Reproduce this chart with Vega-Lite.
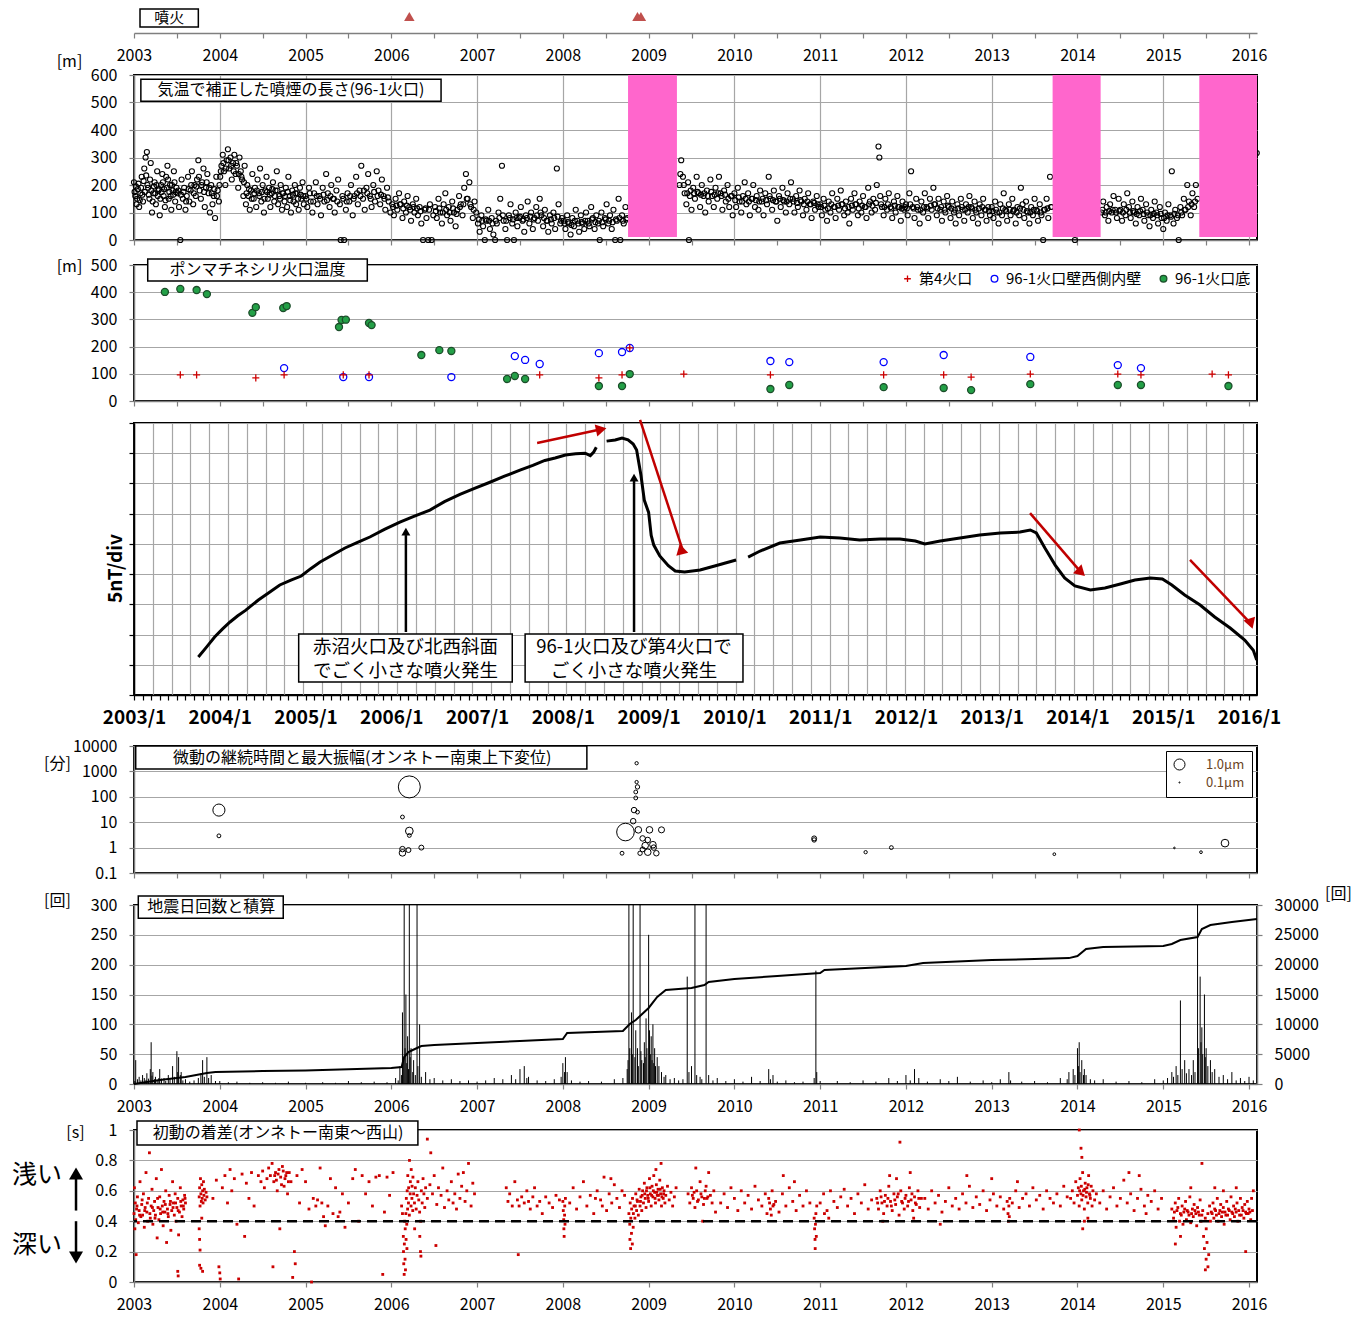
{
  "$schema": "https://vega.github.io/schema/vega-lite/v6.json",
  "background": "white",
  "padding": {"left": 10, "top": 0, "right": 5, "bottom": 5},
  "bounds": "flush",
  "spacing": 0,
  "resolve": {
    "scale": {"size": "independent", "shape": "independent", "fill": "independent", "stroke": "independent", "angle": "independent"},
    "legend": {"size": "independent", "shape": "independent", "fill": "independent", "stroke": "independent"}
  },
  "config": {
    "view": {"stroke": null},
    "font": "Noto Sans CJK JP",
    "axis": {
      "labelFont": "Noto Sans CJK JP", "labelFontSize": 16, "labelColor": "black",
      "titleFont": "Noto Sans CJK JP", "titleFontSize": 16, "titleFontWeight": "normal", "titleColor": "black",
      "domainColor": "#7f7f7f", "domainWidth": 1.5, "tickColor": "#7f7f7f", "tickWidth": 1.2, "tickSize": 5,
      "gridColor": "#a6a6a6", "gridWidth": 1.2, "labelPadding": 12, "labelFlush": false, "labelOverlap": false
    },
    "legend": {"labelFont": "Noto Sans CJK JP", "titleFont": "Noto Sans CJK JP"},
    "text": {"font": "Noto Sans CJK JP", "color": "black"}
  },
  "datasets": {
    "eruptions": [{"t": 2006.21}, {"t": 2008.87}, {"t": 2008.91}],
    "gaps": [{"a": 2008.76, "b": 2009.33}, {"a": 2013.71, "b": 2014.27}, {"a": 2015.42, "b": 2016.093}],
    "plume": [
      {"t":2003.000,"h":210},{"t":2003.015,"h":160},{"t":2003.030,"h":130},{"t":2003.045,"h":185},{"t":2003.060,"h":120},{"t":2003.075,"h":170},{"t":2003.090,"h":230},{"t":2003.105,"h":140},{"t":2003.120,"h":260},{"t":2003.135,"h":300},{"t":2003.150,"h":320},{"t":2003.165,"h":190},{"t":2003.180,"h":150},{"t":2003.195,"h":280},{"t":2003.210,"h":100},{"t":2003.225,"h":170},{"t":2003.240,"h":210},{"t":2003.255,"h":130},{"t":2003.270,"h":250},{"t":2003.285,"h":180},{"t":2003.300,"h":90},{"t":2003.315,"h":200},{"t":2003.330,"h":240},{"t":2003.345,"h":160},{"t":2003.360,"h":120},{"t":2003.375,"h":230},{"t":2003.390,"h":270},{"t":2003.405,"h":150},{"t":2003.420,"h":200},{"t":2003.435,"h":110},{"t":2003.450,"h":180},{"t":2003.465,"h":250},{"t":2003.480,"h":140},{"t":2003.495,"h":190},
      {"t":2003.007,"h":175},{"t":2003.022,"h":195},{"t":2003.037,"h":150},{"t":2003.052,"h":205},{"t":2003.067,"h":145},{"t":2003.082,"h":190},{"t":2003.097,"h":165},{"t":2003.112,"h":215},{"t":2003.127,"h":175},{"t":2003.142,"h":235},{"t":2003.157,"h":200},{"t":2003.172,"h":165},{"t":2003.187,"h":220},{"t":2003.202,"h":180},{"t":2003.217,"h":140},{"t":2003.232,"h":195},{"t":2003.247,"h":170},{"t":2003.262,"h":200},{"t":2003.277,"h":160},{"t":2003.292,"h":185},{"t":2003.307,"h":150},{"t":2003.322,"h":175},{"t":2003.337,"h":210},{"t":2003.352,"h":185},{"t":2003.367,"h":145},{"t":2003.382,"h":190},{"t":2003.397,"h":220},{"t":2003.412,"h":175},{"t":2003.427,"h":160},{"t":2003.442,"h":200},{"t":2003.457,"h":165},{"t":2003.472,"h":210},{"t":2003.487,"h":175},
      {"t":2003.510,"h":170},{"t":2003.525,"h":120},{"t":2003.540,"h":0},{"t":2003.555,"h":220},{"t":2003.570,"h":150},{"t":2003.585,"h":190},{"t":2003.600,"h":110},{"t":2003.615,"h":160},{"t":2003.630,"h":230},{"t":2003.645,"h":140},{"t":2003.660,"h":180},{"t":2003.675,"h":250},{"t":2003.690,"h":130},{"t":2003.705,"h":200},{"t":2003.720,"h":160},{"t":2003.735,"h":220},{"t":2003.750,"h":290},{"t":2003.765,"h":180},{"t":2003.780,"h":150},{"t":2003.795,"h":210},{"t":2003.810,"h":260},{"t":2003.825,"h":120},{"t":2003.840,"h":190},{"t":2003.855,"h":240},{"t":2003.870,"h":170},{"t":2003.885,"h":100},{"t":2003.900,"h":200},{"t":2003.915,"h":130},{"t":2003.930,"h":160},{"t":2003.945,"h":80},{"t":2003.960,"h":230},{"t":2003.975,"h":180},{"t":2003.990,"h":140},
      {"t":2003.517,"h":180},{"t":2003.547,"h":165},{"t":2003.577,"h":175},{"t":2003.607,"h":140},{"t":2003.637,"h":185},{"t":2003.667,"h":200},{"t":2003.697,"h":170},{"t":2003.727,"h":195},{"t":2003.757,"h":230},{"t":2003.787,"h":200},{"t":2003.817,"h":175},{"t":2003.847,"h":210},{"t":2003.877,"h":190},{"t":2003.907,"h":170},{"t":2003.937,"h":185},{"t":2003.967,"h":160},{"t":2003.997,"h":200},
      {"t":2004.005,"h":230},{"t":2004.020,"h":270},{"t":2004.035,"h":310},{"t":2004.050,"h":250},{"t":2004.065,"h":200},{"t":2004.080,"h":290},{"t":2004.095,"h":330},{"t":2004.110,"h":260},{"t":2004.125,"h":300},{"t":2004.140,"h":220},{"t":2004.155,"h":280},{"t":2004.170,"h":310},{"t":2004.185,"h":240},{"t":2004.200,"h":270},{"t":2004.215,"h":190},{"t":2004.230,"h":300},{"t":2004.245,"h":250},{"t":2004.260,"h":220},{"t":2004.275,"h":160},{"t":2004.290,"h":270},
      {"t":2004.012,"h":250},{"t":2004.042,"h":280},{"t":2004.072,"h":260},{"t":2004.102,"h":290},{"t":2004.132,"h":270},{"t":2004.162,"h":250},{"t":2004.192,"h":280},{"t":2004.222,"h":240},{"t":2004.252,"h":230},{"t":2004.282,"h":210},
      {"t":2004.305,"h":130},{"t":2004.320,"h":200},{"t":2004.335,"h":160},{"t":2004.350,"h":110},{"t":2004.365,"h":180},{"t":2004.380,"h":240},{"t":2004.395,"h":150},{"t":2004.410,"h":190},{"t":2004.425,"h":120},{"t":2004.440,"h":220},{"t":2004.455,"h":170},{"t":2004.470,"h":260},{"t":2004.485,"h":140},{"t":2004.500,"h":200},{"t":2004.515,"h":100},{"t":2004.530,"h":180},{"t":2004.545,"h":230},{"t":2004.560,"h":150},{"t":2004.575,"h":190},{"t":2004.590,"h":120},{"t":2004.605,"h":170},{"t":2004.620,"h":210},{"t":2004.635,"h":140},{"t":2004.650,"h":180},{"t":2004.665,"h":250},{"t":2004.680,"h":130},{"t":2004.695,"h":160},{"t":2004.710,"h":200},{"t":2004.725,"h":110},{"t":2004.740,"h":170},{"t":2004.755,"h":140},{"t":2004.770,"h":190},{"t":2004.785,"h":120},{"t":2004.800,"h":230},{"t":2004.815,"h":160},{"t":2004.830,"h":100},{"t":2004.845,"h":180},{"t":2004.860,"h":140},{"t":2004.875,"h":200},{"t":2004.890,"h":130},{"t":2004.905,"h":170},{"t":2004.920,"h":110},{"t":2004.935,"h":190},{"t":2004.950,"h":150},{"t":2004.965,"h":210},{"t":2004.980,"h":130},
      {"t":2004.312,"h":170},{"t":2004.342,"h":185},{"t":2004.372,"h":150},{"t":2004.402,"h":170},{"t":2004.432,"h":180},{"t":2004.462,"h":160},{"t":2004.492,"h":175},{"t":2004.522,"h":150},{"t":2004.552,"h":175},{"t":2004.582,"h":165},{"t":2004.612,"h":185},{"t":2004.642,"h":160},{"t":2004.672,"h":180},{"t":2004.702,"h":150},{"t":2004.732,"h":170},{"t":2004.762,"h":160},{"t":2004.792,"h":175},{"t":2004.822,"h":145},{"t":2004.852,"h":165},{"t":2004.882,"h":170},{"t":2004.912,"h":150},{"t":2004.942,"h":165},{"t":2004.972,"h":160},
      {"t":2005.00,"h":160},{"t":2005.02,"h":120},{"t":2005.04,"h":190},{"t":2005.06,"h":140},{"t":2005.08,"h":100},{"t":2005.10,"h":170},{"t":2005.12,"h":210},{"t":2005.14,"h":130},{"t":2005.16,"h":160},{"t":2005.18,"h":90},{"t":2005.20,"h":190},{"t":2005.22,"h":140},{"t":2005.24,"h":240},{"t":2005.26,"h":170},{"t":2005.28,"h":120},{"t":2005.30,"h":200},{"t":2005.32,"h":150},{"t":2005.34,"h":100},{"t":2005.36,"h":180},{"t":2005.38,"h":220},{"t":2005.40,"h":130},{"t":2005.41,"h":0},{"t":2005.43,"h":160},{"t":2005.45,"h":0},{"t":2005.47,"h":110},{"t":2005.49,"h":170},{"t":2005.51,"h":140},{"t":2005.53,"h":200},{"t":2005.55,"h":90},{"t":2005.57,"h":160},{"t":2005.59,"h":230},{"t":2005.61,"h":130},{"t":2005.63,"h":180},{"t":2005.65,"h":270},{"t":2005.67,"h":150},{"t":2005.69,"h":110},{"t":2005.71,"h":190},{"t":2005.73,"h":240},{"t":2005.75,"h":160},{"t":2005.77,"h":120},{"t":2005.79,"h":200},{"t":2005.81,"h":140},{"t":2005.83,"h":250},{"t":2005.85,"h":180},{"t":2005.87,"h":130},{"t":2005.89,"h":220},{"t":2005.91,"h":160},{"t":2005.93,"h":110},{"t":2005.95,"h":190},{"t":2005.97,"h":140},{"t":2005.99,"h":100},
      {"t":2005.01,"h":150},{"t":2005.05,"h":170},{"t":2005.09,"h":140},{"t":2005.13,"h":160},{"t":2005.17,"h":150},{"t":2005.21,"h":165},{"t":2005.25,"h":145},{"t":2005.29,"h":160},{"t":2005.33,"h":150},{"t":2005.37,"h":140},{"t":2005.44,"h":150},{"t":2005.48,"h":140},{"t":2005.52,"h":160},{"t":2005.56,"h":150},{"t":2005.60,"h":170},{"t":2005.64,"h":160},{"t":2005.68,"h":180},{"t":2005.72,"h":170},{"t":2005.76,"h":150},{"t":2005.80,"h":175},{"t":2005.84,"h":160},{"t":2005.88,"h":165},{"t":2005.92,"h":150},{"t":2005.96,"h":155},
      {"t":2006.01,"h":130},{"t":2006.03,"h":90},{"t":2006.05,"h":150},{"t":2006.07,"h":110},{"t":2006.09,"h":170},{"t":2006.11,"h":130},{"t":2006.13,"h":80},{"t":2006.15,"h":140},{"t":2006.17,"h":100},{"t":2006.19,"h":160},{"t":2006.21,"h":120},{"t":2006.23,"h":70},{"t":2006.25,"h":130},{"t":2006.27,"h":100},{"t":2006.29,"h":150},{"t":2006.31,"h":90},{"t":2006.33,"h":120},{"t":2006.35,"h":60},{"t":2006.37,"h":0},{"t":2006.39,"h":110},{"t":2006.41,"h":80},{"t":2006.43,"h":0},{"t":2006.45,"h":130},{"t":2006.47,"h":0},{"t":2006.49,"h":90},
      {"t":2006.02,"h":120},{"t":2006.06,"h":125},{"t":2006.10,"h":130},{"t":2006.14,"h":115},{"t":2006.18,"h":125},{"t":2006.22,"h":110},{"t":2006.26,"h":120},{"t":2006.30,"h":115},{"t":2006.34,"h":105},{"t":2006.40,"h":115},{"t":2006.44,"h":110},{"t":2006.52,"h":105},{"t":2006.56,"h":115},{"t":2006.60,"h":100},{"t":2006.64,"h":110},{"t":2006.68,"h":100},{"t":2006.72,"h":115},{"t":2006.76,"h":95},{"t":2006.80,"h":120},{"t":2006.84,"h":130},{"t":2006.88,"h":150},{"t":2006.92,"h":130},{"t":2006.96,"h":110},
      {"t":2006.51,"h":120},{"t":2006.53,"h":80},{"t":2006.55,"h":150},{"t":2006.57,"h":100},{"t":2006.59,"h":60},{"t":2006.61,"h":130},{"t":2006.63,"h":170},{"t":2006.65,"h":90},{"t":2006.67,"h":120},{"t":2006.69,"h":70},{"t":2006.71,"h":140},{"t":2006.73,"h":100},{"t":2006.75,"h":50},{"t":2006.77,"h":110},{"t":2006.79,"h":160},{"t":2006.81,"h":130},{"t":2006.83,"h":90},{"t":2006.85,"h":190},{"t":2006.87,"h":240},{"t":2006.89,"h":150},{"t":2006.91,"h":210},{"t":2006.93,"h":120},{"t":2006.95,"h":80},{"t":2006.97,"h":140},{"t":2006.99,"h":100},
      {"t":2007.01,"h":60},{"t":2007.03,"h":30},{"t":2007.05,"h":90},{"t":2007.07,"h":50},{"t":2007.09,"h":0},{"t":2007.11,"h":70},{"t":2007.13,"h":110},{"t":2007.15,"h":40},{"t":2007.17,"h":80},{"t":2007.19,"h":20},{"t":2007.21,"h":0},{"t":2007.23,"h":60},{"t":2007.25,"h":100},{"t":2007.27,"h":150},{"t":2007.29,"h":270},{"t":2007.31,"h":70},{"t":2007.33,"h":40},{"t":2007.35,"h":0},{"t":2007.37,"h":90},{"t":2007.39,"h":130},{"t":2007.41,"h":60},{"t":2007.43,"h":0},{"t":2007.45,"h":100},{"t":2007.47,"h":50},{"t":2007.49,"h":80},{"t":2007.51,"h":120},{"t":2007.53,"h":70},{"t":2007.55,"h":30},{"t":2007.57,"h":90},{"t":2007.59,"h":140},{"t":2007.61,"h":60},{"t":2007.63,"h":100},{"t":2007.65,"h":40},{"t":2007.67,"h":80},{"t":2007.69,"h":120},{"t":2007.71,"h":70},{"t":2007.73,"h":150},{"t":2007.75,"h":90},{"t":2007.77,"h":50},{"t":2007.79,"h":110},{"t":2007.81,"h":70},{"t":2007.83,"h":30},{"t":2007.85,"h":90},{"t":2007.87,"h":60},{"t":2007.89,"h":100},{"t":2007.91,"h":40},{"t":2007.93,"h":260},{"t":2007.95,"h":130},{"t":2007.97,"h":60},{"t":2007.99,"h":80},
      {"t":2007.02,"h":75},{"t":2007.06,"h":70},{"t":2007.10,"h":75},{"t":2007.14,"h":70},{"t":2007.18,"h":60},{"t":2007.22,"h":70},{"t":2007.26,"h":80},{"t":2007.30,"h":90},{"t":2007.34,"h":70},{"t":2007.38,"h":80},{"t":2007.42,"h":75},{"t":2007.46,"h":80},{"t":2007.50,"h":85},{"t":2007.54,"h":75},{"t":2007.58,"h":80},{"t":2007.62,"h":85},{"t":2007.66,"h":75},{"t":2007.70,"h":90},{"t":2007.74,"h":100},{"t":2007.78,"h":80},{"t":2007.82,"h":70},{"t":2007.86,"h":75},{"t":2007.90,"h":80},{"t":2007.94,"h":85},{"t":2007.98,"h":70},
      {"t":2008.01,"h":70},{"t":2008.03,"h":40},{"t":2008.05,"h":90},{"t":2008.07,"h":60},{"t":2008.09,"h":20},{"t":2008.11,"h":80},{"t":2008.13,"h":50},{"t":2008.15,"h":110},{"t":2008.17,"h":70},{"t":2008.19,"h":30},{"t":2008.21,"h":90},{"t":2008.23,"h":60},{"t":2008.25,"h":40},{"t":2008.27,"h":100},{"t":2008.29,"h":70},{"t":2008.31,"h":50},{"t":2008.33,"h":120},{"t":2008.35,"h":80},{"t":2008.37,"h":40},{"t":2008.39,"h":90},{"t":2008.41,"h":60},{"t":2008.43,"h":0},{"t":2008.45,"h":100},{"t":2008.47,"h":50},{"t":2008.49,"h":80},{"t":2008.51,"h":130},{"t":2008.53,"h":60},{"t":2008.55,"h":90},{"t":2008.57,"h":40},{"t":2008.59,"h":110},{"t":2008.61,"h":0},{"t":2008.63,"h":70},{"t":2008.65,"h":150},{"t":2008.67,"h":0},{"t":2008.69,"h":90},{"t":2008.71,"h":60},{"t":2008.73,"h":120},{"t":2008.75,"h":80},
      {"t":2008.02,"h":60},{"t":2008.06,"h":65},{"t":2008.10,"h":55},{"t":2008.14,"h":70},{"t":2008.18,"h":60},{"t":2008.22,"h":65},{"t":2008.26,"h":70},{"t":2008.30,"h":60},{"t":2008.34,"h":75},{"t":2008.38,"h":65},{"t":2008.42,"h":70},{"t":2008.46,"h":65},{"t":2008.50,"h":75},{"t":2008.54,"h":70},{"t":2008.58,"h":65},{"t":2008.62,"h":75},{"t":2008.66,"h":80},{"t":2008.70,"h":70},{"t":2008.74,"h":75},
      {"t":2009.36,"h":200},{"t":2009.38,"h":290},{"t":2009.40,"h":230},{"t":2009.42,"h":170},{"t":2009.44,"h":130},{"t":2009.46,"h":210},{"t":2009.47,"h":0},{"t":2009.48,"h":160},{"t":2009.50,"h":110},{"t":2009.52,"h":190},{"t":2009.54,"h":150},{"t":2009.56,"h":230},{"t":2009.58,"h":170},{"t":2009.60,"h":120},{"t":2009.62,"h":200},{"t":2009.64,"h":160},{"t":2009.66,"h":100},{"t":2009.68,"h":180},{"t":2009.70,"h":140},{"t":2009.72,"h":220},{"t":2009.74,"h":160},{"t":2009.76,"h":120},{"t":2009.78,"h":190},{"t":2009.80,"h":150},{"t":2009.82,"h":230},{"t":2009.84,"h":170},{"t":2009.86,"h":110},{"t":2009.88,"h":180},{"t":2009.90,"h":140},{"t":2009.92,"h":200},{"t":2009.94,"h":120},{"t":2009.96,"h":160},{"t":2009.98,"h":90},
      {"t":2009.37,"h":240},{"t":2009.41,"h":200},{"t":2009.45,"h":170},{"t":2009.49,"h":180},{"t":2009.53,"h":170},{"t":2009.57,"h":175},{"t":2009.61,"h":165},{"t":2009.65,"h":170},{"t":2009.69,"h":160},{"t":2009.73,"h":175},{"t":2009.77,"h":165},{"t":2009.81,"h":170},{"t":2009.85,"h":160},{"t":2009.89,"h":165},{"t":2009.93,"h":150},{"t":2009.97,"h":160},
      {"t":2010.00,"h":170},{"t":2010.02,"h":120},{"t":2010.04,"h":190},{"t":2010.06,"h":140},{"t":2010.08,"h":100},{"t":2010.10,"h":160},{"t":2010.12,"h":210},{"t":2010.14,"h":130},{"t":2010.16,"h":170},{"t":2010.18,"h":90},{"t":2010.20,"h":150},{"t":2010.22,"h":200},{"t":2010.24,"h":120},{"t":2010.26,"h":160},{"t":2010.28,"h":110},{"t":2010.30,"h":180},{"t":2010.32,"h":140},{"t":2010.34,"h":90},{"t":2010.36,"h":170},{"t":2010.38,"h":130},{"t":2010.40,"h":230},{"t":2010.42,"h":150},{"t":2010.44,"h":110},{"t":2010.46,"h":180},{"t":2010.48,"h":140},{"t":2010.50,"h":70},{"t":2010.52,"h":160},{"t":2010.54,"h":120},{"t":2010.56,"h":190},{"t":2010.58,"h":140},{"t":2010.60,"h":100},{"t":2010.62,"h":170},{"t":2010.64,"h":130},{"t":2010.66,"h":210},{"t":2010.68,"h":150},{"t":2010.70,"h":100},{"t":2010.72,"h":160},{"t":2010.74,"h":120},{"t":2010.76,"h":180},{"t":2010.78,"h":140},{"t":2010.80,"h":90},{"t":2010.82,"h":150},{"t":2010.84,"h":110},{"t":2010.86,"h":170},{"t":2010.88,"h":130},{"t":2010.90,"h":80},{"t":2010.92,"h":140},{"t":2010.94,"h":110},{"t":2010.96,"h":160},{"t":2010.98,"h":120},
      {"t":2010.01,"h":145},{"t":2010.05,"h":155},{"t":2010.09,"h":140},{"t":2010.13,"h":150},{"t":2010.17,"h":140},{"t":2010.21,"h":150},{"t":2010.25,"h":145},{"t":2010.29,"h":140},{"t":2010.33,"h":150},{"t":2010.37,"h":145},{"t":2010.41,"h":160},{"t":2010.45,"h":145},{"t":2010.49,"h":140},{"t":2010.53,"h":150},{"t":2010.57,"h":145},{"t":2010.61,"h":140},{"t":2010.65,"h":150},{"t":2010.69,"h":140},{"t":2010.73,"h":135},{"t":2010.77,"h":145},{"t":2010.81,"h":130},{"t":2010.85,"h":140},{"t":2010.89,"h":130},{"t":2010.93,"h":135},{"t":2010.97,"h":130},
      {"t":2011.00,"h":130},{"t":2011.02,"h":90},{"t":2011.04,"h":150},{"t":2011.06,"h":110},{"t":2011.08,"h":70},{"t":2011.10,"h":140},{"t":2011.12,"h":100},{"t":2011.14,"h":170},{"t":2011.16,"h":120},{"t":2011.18,"h":80},{"t":2011.20,"h":150},{"t":2011.22,"h":110},{"t":2011.24,"h":180},{"t":2011.26,"h":130},{"t":2011.28,"h":90},{"t":2011.30,"h":140},{"t":2011.32,"h":100},{"t":2011.34,"h":60},{"t":2011.36,"h":150},{"t":2011.38,"h":110},{"t":2011.40,"h":170},{"t":2011.42,"h":130},{"t":2011.44,"h":90},{"t":2011.46,"h":140},{"t":2011.48,"h":100},{"t":2011.50,"h":160},{"t":2011.52,"h":120},{"t":2011.54,"h":80},{"t":2011.56,"h":190},{"t":2011.58,"h":140},{"t":2011.60,"h":100},{"t":2011.62,"h":150},{"t":2011.64,"h":110},{"t":2011.66,"h":200},{"t":2011.68,"h":340},{"t":2011.69,"h":300},{"t":2011.70,"h":160},{"t":2011.72,"h":120},{"t":2011.74,"h":90},{"t":2011.76,"h":150},{"t":2011.78,"h":110},{"t":2011.80,"h":170},{"t":2011.82,"h":120},{"t":2011.84,"h":80},{"t":2011.86,"h":140},{"t":2011.88,"h":100},{"t":2011.90,"h":160},{"t":2011.92,"h":120},{"t":2011.94,"h":70},{"t":2011.96,"h":140},{"t":2011.98,"h":110},
      {"t":2011.01,"h":120},{"t":2011.05,"h":125},{"t":2011.09,"h":115},{"t":2011.13,"h":130},{"t":2011.17,"h":120},{"t":2011.21,"h":125},{"t":2011.25,"h":130},{"t":2011.29,"h":115},{"t":2011.33,"h":120},{"t":2011.37,"h":125},{"t":2011.41,"h":130},{"t":2011.45,"h":115},{"t":2011.49,"h":125},{"t":2011.53,"h":120},{"t":2011.57,"h":130},{"t":2011.61,"h":125},{"t":2011.65,"h":135},{"t":2011.71,"h":130},{"t":2011.75,"h":120},{"t":2011.79,"h":130},{"t":2011.83,"h":115},{"t":2011.87,"h":125},{"t":2011.91,"h":120},{"t":2011.95,"h":115},{"t":2011.99,"h":120},
      {"t":2012.00,"h":130},{"t":2012.02,"h":90},{"t":2012.04,"h":170},{"t":2012.06,"h":250},{"t":2012.08,"h":120},{"t":2012.10,"h":80},{"t":2012.12,"h":150},{"t":2012.14,"h":110},{"t":2012.16,"h":60},{"t":2012.18,"h":140},{"t":2012.20,"h":100},{"t":2012.22,"h":170},{"t":2012.24,"h":120},{"t":2012.26,"h":80},{"t":2012.28,"h":150},{"t":2012.30,"h":110},{"t":2012.32,"h":190},{"t":2012.34,"h":130},{"t":2012.36,"h":90},{"t":2012.38,"h":150},{"t":2012.40,"h":110},{"t":2012.42,"h":70},{"t":2012.44,"h":140},{"t":2012.46,"h":100},{"t":2012.48,"h":160},{"t":2012.50,"h":120},{"t":2012.52,"h":80},{"t":2012.54,"h":140},{"t":2012.56,"h":100},{"t":2012.58,"h":60},{"t":2012.60,"h":130},{"t":2012.62,"h":90},{"t":2012.64,"h":150},{"t":2012.66,"h":110},{"t":2012.68,"h":70},{"t":2012.70,"h":130},{"t":2012.72,"h":100},{"t":2012.74,"h":160},{"t":2012.76,"h":120},{"t":2012.78,"h":80},{"t":2012.80,"h":140},{"t":2012.82,"h":100},{"t":2012.84,"h":60},{"t":2012.86,"h":130},{"t":2012.88,"h":90},{"t":2012.90,"h":150},{"t":2012.92,"h":110},{"t":2012.94,"h":70},{"t":2012.96,"h":120},{"t":2012.98,"h":90},
      {"t":2012.01,"h":115},{"t":2012.05,"h":130},{"t":2012.09,"h":115},{"t":2012.13,"h":120},{"t":2012.17,"h":110},{"t":2012.21,"h":120},{"t":2012.25,"h":115},{"t":2012.29,"h":125},{"t":2012.33,"h":130},{"t":2012.37,"h":115},{"t":2012.41,"h":120},{"t":2012.45,"h":110},{"t":2012.49,"h":125},{"t":2012.53,"h":115},{"t":2012.57,"h":110},{"t":2012.61,"h":115},{"t":2012.65,"h":120},{"t":2012.69,"h":110},{"t":2012.73,"h":120},{"t":2012.77,"h":115},{"t":2012.81,"h":110},{"t":2012.85,"h":115},{"t":2012.89,"h":120},{"t":2012.93,"h":110},{"t":2012.97,"h":105},
      {"t":2013.00,"h":120},{"t":2013.02,"h":80},{"t":2013.04,"h":140},{"t":2013.06,"h":100},{"t":2013.08,"h":60},{"t":2013.10,"h":130},{"t":2013.12,"h":90},{"t":2013.14,"h":170},{"t":2013.16,"h":110},{"t":2013.18,"h":70},{"t":2013.20,"h":130},{"t":2013.22,"h":90},{"t":2013.24,"h":150},{"t":2013.26,"h":110},{"t":2013.28,"h":60},{"t":2013.30,"h":120},{"t":2013.32,"h":90},{"t":2013.34,"h":190},{"t":2013.36,"h":130},{"t":2013.38,"h":80},{"t":2013.40,"h":140},{"t":2013.42,"h":100},{"t":2013.44,"h":60},{"t":2013.46,"h":120},{"t":2013.48,"h":90},{"t":2013.50,"h":150},{"t":2013.52,"h":110},{"t":2013.54,"h":70},{"t":2013.56,"h":130},{"t":2013.58,"h":90},{"t":2013.60,"h":0},{"t":2013.62,"h":110},{"t":2013.64,"h":150},{"t":2013.66,"h":80},{"t":2013.68,"h":230},{"t":2013.70,"h":120},{"t":2013.97,"h":0},
      {"t":2013.01,"h":105},{"t":2013.05,"h":110},{"t":2013.09,"h":100},{"t":2013.13,"h":115},{"t":2013.17,"h":105},{"t":2013.21,"h":110},{"t":2013.25,"h":105},{"t":2013.29,"h":100},{"t":2013.33,"h":115},{"t":2013.37,"h":110},{"t":2013.41,"h":105},{"t":2013.45,"h":100},{"t":2013.49,"h":110},{"t":2013.53,"h":105},{"t":2013.57,"h":100},{"t":2013.61,"h":110},{"t":2013.65,"h":115},{"t":2013.69,"h":120},
      {"t":2014.28,"h":100},{"t":2014.30,"h":140},{"t":2014.32,"h":90},{"t":2014.34,"h":120},{"t":2014.36,"h":70},{"t":2014.38,"h":130},{"t":2014.40,"h":100},{"t":2014.42,"h":160},{"t":2014.44,"h":110},{"t":2014.46,"h":80},{"t":2014.48,"h":150},{"t":2014.50,"h":110},{"t":2014.52,"h":70},{"t":2014.54,"h":130},{"t":2014.56,"h":90},{"t":2014.58,"h":170},{"t":2014.60,"h":120},{"t":2014.62,"h":80},{"t":2014.64,"h":140},{"t":2014.66,"h":100},{"t":2014.68,"h":60},{"t":2014.70,"h":120},{"t":2014.72,"h":90},{"t":2014.74,"h":150},{"t":2014.76,"h":110},{"t":2014.78,"h":70},{"t":2014.80,"h":130},{"t":2014.82,"h":90},{"t":2014.84,"h":50},{"t":2014.86,"h":110},{"t":2014.88,"h":80},{"t":2014.90,"h":140},{"t":2014.92,"h":100},{"t":2014.94,"h":60},{"t":2014.96,"h":120},{"t":2014.98,"h":80},{"t":2015.00,"h":40},{"t":2015.02,"h":100},{"t":2015.04,"h":70},{"t":2015.06,"h":130},{"t":2015.08,"h":90},{"t":2015.10,"h":250},{"t":2015.12,"h":60},{"t":2015.14,"h":110},{"t":2015.16,"h":80},{"t":2015.18,"h":0},{"t":2015.20,"h":120},{"t":2015.22,"h":90},{"t":2015.24,"h":150},{"t":2015.26,"h":110},{"t":2015.28,"h":200},{"t":2015.30,"h":140},{"t":2015.32,"h":90},{"t":2015.34,"h":170},{"t":2015.36,"h":120},{"t":2015.38,"h":200},{"t":2015.40,"h":150},{"t":2016.09,"h":316},
      {"t":2014.29,"h":110},{"t":2014.33,"h":100},{"t":2014.37,"h":105},{"t":2014.41,"h":110},{"t":2014.45,"h":100},{"t":2014.49,"h":105},{"t":2014.53,"h":100},{"t":2014.57,"h":110},{"t":2014.61,"h":100},{"t":2014.65,"h":105},{"t":2014.69,"h":95},{"t":2014.73,"h":105},{"t":2014.77,"h":95},{"t":2014.81,"h":100},{"t":2014.85,"h":90},{"t":2014.89,"h":95},{"t":2014.93,"h":90},{"t":2014.97,"h":95},{"t":2015.01,"h":80},{"t":2015.05,"h":90},{"t":2015.09,"h":85},{"t":2015.13,"h":95},{"t":2015.17,"h":90},{"t":2015.21,"h":100},{"t":2015.25,"h":110},{"t":2015.29,"h":120},{"t":2015.33,"h":130},{"t":2015.37,"h":140}
    ],
    "temps": [
      {"t":2003.36,"v":401,"s":"96-1火口底"},{"t":2003.54,"v":412,"s":"96-1火口底"},{"t":2003.73,"v":408,"s":"96-1火口底"},{"t":2003.85,"v":393,"s":"96-1火口底"},{"t":2004.38,"v":324,"s":"96-1火口底"},{"t":2004.42,"v":345,"s":"96-1火口底"},{"t":2004.74,"v":342,"s":"96-1火口底"},{"t":2004.78,"v":349,"s":"96-1火口底"},{"t":2005.39,"v":272,"s":"96-1火口底"},{"t":2005.42,"v":298,"s":"96-1火口底"},{"t":2005.47,"v":299,"s":"96-1火口底"},{"t":2005.74,"v":287,"s":"96-1火口底"},{"t":2005.77,"v":279,"s":"96-1火口底"},{"t":2006.35,"v":169,"s":"96-1火口底"},{"t":2006.56,"v":187,"s":"96-1火口底"},{"t":2006.70,"v":184,"s":"96-1火口底"},{"t":2007.35,"v":81,"s":"96-1火口底"},{"t":2007.44,"v":92,"s":"96-1火口底"},{"t":2007.56,"v":81,"s":"96-1火口底"},{"t":2008.42,"v":55,"s":"96-1火口底"},{"t":2008.69,"v":55,"s":"96-1火口底"},{"t":2008.78,"v":99,"s":"96-1火口底"},{"t":2010.42,"v":44,"s":"96-1火口底"},{"t":2010.64,"v":59,"s":"96-1火口底"},{"t":2011.74,"v":51,"s":"96-1火口底"},{"t":2012.44,"v":48,"s":"96-1火口底"},{"t":2012.76,"v":40,"s":"96-1火口底"},{"t":2013.45,"v":62,"s":"96-1火口底"},{"t":2014.47,"v":59,"s":"96-1火口底"},{"t":2014.74,"v":59,"s":"96-1火口底"},{"t":2015.76,"v":55,"s":"96-1火口底"},
      {"t":2004.75,"v":121,"s":"96-1火口壁西側内壁"},{"t":2005.44,"v":88,"s":"96-1火口壁西側内壁"},{"t":2005.74,"v":88,"s":"96-1火口壁西側内壁"},{"t":2006.70,"v":88,"s":"96-1火口壁西側内壁"},{"t":2007.44,"v":165,"s":"96-1火口壁西側内壁"},{"t":2007.56,"v":151,"s":"96-1火口壁西側内壁"},{"t":2007.73,"v":136,"s":"96-1火口壁西側内壁"},{"t":2008.42,"v":176,"s":"96-1火口壁西側内壁"},{"t":2008.69,"v":180,"s":"96-1火口壁西側内壁"},{"t":2008.78,"v":195,"s":"96-1火口壁西側内壁"},{"t":2010.42,"v":147,"s":"96-1火口壁西側内壁"},{"t":2010.64,"v":143,"s":"96-1火口壁西側内壁"},{"t":2011.74,"v":143,"s":"96-1火口壁西側内壁"},{"t":2012.44,"v":169,"s":"96-1火口壁西側内壁"},{"t":2013.45,"v":162,"s":"96-1火口壁西側内壁"},{"t":2014.47,"v":132,"s":"96-1火口壁西側内壁"},{"t":2014.74,"v":121,"s":"96-1火口壁西側内壁"},
      {"t":2003.54,"v":96,"s":"第4火口"},{"t":2003.73,"v":96,"s":"第4火口"},{"t":2004.42,"v":85,"s":"第4火口"},{"t":2004.75,"v":96,"s":"第4火口"},{"t":2005.44,"v":96,"s":"第4火口"},{"t":2005.74,"v":96,"s":"第4火口"},{"t":2007.73,"v":96,"s":"第4火口"},{"t":2008.42,"v":85,"s":"第4火口"},{"t":2008.69,"v":96,"s":"第4火口"},{"t":2008.78,"v":195,"s":"第4火口"},{"t":2009.41,"v":99,"s":"第4火口"},{"t":2010.42,"v":96,"s":"第4火口"},{"t":2011.74,"v":96,"s":"第4火口"},{"t":2012.44,"v":96,"s":"第4火口"},{"t":2012.76,"v":88,"s":"第4火口"},{"t":2013.45,"v":99,"s":"第4火口"},{"t":2014.47,"v":99,"s":"第4火口"},{"t":2014.74,"v":96,"s":"第4火口"},{"t":2015.57,"v":99,"s":"第4火口"},{"t":2015.76,"v":96,"s":"第4火口"}
    ],
    "mag": [
      {"t":2003.75,"v":0.64,"g":1},{"t":2003.85,"v":1.5,"g":1},{"t":2003.94,"v":2.3,"g":1},{"t":2004.03,"v":2.95,"g":1},{"t":2004.12,"v":3.54,"g":1},{"t":2004.21,"v":4.05,"g":1},{"t":2004.30,"v":4.5,"g":1},{"t":2004.45,"v":5.36,"g":1},{"t":2004.58,"v":6.0,"g":1},{"t":2004.70,"v":6.6,"g":1},{"t":2004.83,"v":7.0,"g":1},{"t":2004.95,"v":7.34,"g":1},{"t":2005.06,"v":7.95,"g":1},{"t":2005.17,"v":8.5,"g":1},{"t":2005.32,"v":9.1,"g":1},{"t":2005.46,"v":9.66,"g":1},{"t":2005.60,"v":10.1,"g":1},{"t":2005.75,"v":10.57,"g":1},{"t":2005.92,"v":11.2,"g":1},{"t":2006.10,"v":11.8,"g":1},{"t":2006.27,"v":12.3,"g":1},{"t":2006.45,"v":12.8,"g":1},{"t":2006.62,"v":13.5,"g":1},{"t":2006.80,"v":14.1,"g":1},{"t":2006.97,"v":14.6,"g":1},{"t":2007.15,"v":15.1,"g":1},{"t":2007.32,"v":15.6,"g":1},{"t":2007.50,"v":16.1,"g":1},{"t":2007.65,"v":16.5,"g":1},{"t":2007.79,"v":16.9,"g":1},{"t":2007.91,"v":17.1,"g":1},{"t":2008.03,"v":17.35,"g":1},{"t":2008.15,"v":17.45,"g":1},{"t":2008.26,"v":17.5,"g":1},{"t":2008.32,"v":17.3,"g":1},{"t":2008.36,"v":17.6,"g":1},{"t":2008.39,"v":18.0,"g":1},
      {"t":2008.51,"v":18.5,"g":2},{"t":2008.61,"v":18.6,"g":2},{"t":2008.69,"v":18.76,"g":2},{"t":2008.76,"v":18.6,"g":2},{"t":2008.82,"v":18.26,"g":2},{"t":2008.86,"v":17.76,"g":2},{"t":2008.91,"v":15.7,"g":2},{"t":2008.95,"v":13.6,"g":2},{"t":2009.00,"v":12.6,"g":2},{"t":2009.03,"v":10.7,"g":2},{"t":2009.06,"v":9.9,"g":2},{"t":2009.13,"v":9.0,"g":2},{"t":2009.23,"v":8.2,"g":2},{"t":2009.31,"v":7.76,"g":2},{"t":2009.42,"v":7.67,"g":2},{"t":2009.60,"v":7.84,"g":2},{"t":2009.77,"v":8.17,"g":2},{"t":2010.02,"v":8.67,"g":2},
      {"t":2010.16,"v":8.91,"g":3},{"t":2010.30,"v":9.41,"g":3},{"t":2010.53,"v":10.07,"g":3},{"t":2010.77,"v":10.32,"g":3},{"t":2011.00,"v":10.57,"g":3},{"t":2011.23,"v":10.49,"g":3},{"t":2011.46,"v":10.32,"g":3},{"t":2011.70,"v":10.4,"g":3},{"t":2011.93,"v":10.4,"g":3},{"t":2012.11,"v":10.24,"g":3},{"t":2012.22,"v":9.99,"g":3},{"t":2012.40,"v":10.24,"g":3},{"t":2012.63,"v":10.49,"g":3},{"t":2012.86,"v":10.73,"g":3},{"t":2013.10,"v":10.9,"g":3},{"t":2013.33,"v":10.98,"g":3},{"t":2013.45,"v":11.15,"g":3},{"t":2013.52,"v":10.9,"g":3},{"t":2013.62,"v":9.66,"g":3},{"t":2013.74,"v":8.25,"g":3},{"t":2013.85,"v":7.18,"g":3},{"t":2013.97,"v":6.52,"g":3},{"t":2014.15,"v":6.18,"g":3},{"t":2014.32,"v":6.35,"g":3},{"t":2014.50,"v":6.68,"g":3},{"t":2014.67,"v":7.01,"g":3},{"t":2014.85,"v":7.18,"g":3},{"t":2014.99,"v":7.1,"g":3},{"t":2015.10,"v":6.6,"g":3},{"t":2015.25,"v":5.77,"g":3},{"t":2015.43,"v":4.94,"g":3},{"t":2015.60,"v":3.95,"g":3},{"t":2015.78,"v":3.04,"g":3},{"t":2015.95,"v":2.05,"g":3},{"t":2016.05,"v":1.2,"g":3},{"t":2016.09,"v":0.4,"g":3}
    ],
    "blackArrows": [{"t": 2006.17, "y0": 2.71, "y1": 10.73, "h": 11.02}, {"t": 2008.83, "y0": 2.71, "y1": 15.2, "h": 15.49}],
    "redArrows": [
      {"k": 1, "x": 2007.70, "y": 18.34, "x2": 2008.447, "y2": 19.477},
      {"k": 2, "x": 2008.90, "y": 20.25, "x2": 2009.402, "y2": 9.386},
      {"k": 3, "x": 2013.447, "y": 12.55, "x2": 2014.042, "y2": 7.64},
      {"k": 4, "x": 2015.312, "y": 8.67, "x2": 2016.022, "y2": 3.397}
    ],
    "notes": [
      {"a": 2004.92, "b": 2007.41, "c": 2006.165, "l1": "赤沼火口及び北西斜面", "l2": "でごく小さな噴火発生"},
      {"a": 2007.56, "b": 2010.10, "c": 2008.83, "l1": "96-1火口及び第4火口で", "l2": "ごく小さな噴火発生"}
    ],
    "tremor": [
      {"t":2003.99,"d":30,"a":1.1},{"t":2003.99,"d":2.9,"a":0.35},{"t":2006.21,"d":245,"a":2.0},{"t":2006.13,"d":16,"a":0.35},{"t":2006.21,"d":4.5,"a":0.7},{"t":2006.21,"d":3.0,"a":0.35},{"t":2006.13,"d":0.87,"a":0.5},{"t":2006.13,"d":0.62,"a":0.6},{"t":2006.20,"d":0.8,"a":0.45},{"t":2006.35,"d":1.0,"a":0.45},
      {"t":2008.86,"d":2100,"a":0.3},{"t":2008.86,"d":380,"a":0.3},{"t":2008.87,"d":245,"a":0.4},{"t":2008.85,"d":155,"a":0.35},{"t":2008.85,"d":90,"a":0.35},{"t":2008.83,"d":30,"a":0.5},{"t":2008.87,"d":25,"a":0.35},{"t":2008.73,"d":4.1,"a":1.6},{"t":2008.82,"d":11,"a":0.5},{"t":2008.88,"d":5,"a":0.6},{"t":2009.01,"d":5,"a":0.6},{"t":2009.15,"d":5,"a":0.55},{"t":2008.93,"d":2.3,"a":0.5},{"t":2008.99,"d":2.0,"a":0.5},{"t":2009.05,"d":1.3,"a":0.6},{"t":2008.93,"d":0.85,"a":0.45},{"t":2008.99,"d":0.66,"a":0.6},{"t":2009.06,"d":1.0,"a":0.5},{"t":2008.90,"d":0.6,"a":0.4},{"t":2009.09,"d":0.6,"a":0.5},{"t":2008.69,"d":0.6,"a":0.35},{"t":2008.96,"d":1.2,"a":0.6},
      {"t":2010.93,"d":2.3,"a":0.45},{"t":2010.93,"d":2.0,"a":0.4},{"t":2011.53,"d":0.66,"a":0.3},{"t":2011.83,"d":1.0,"a":0.35},{"t":2013.73,"d":0.55,"a":0.25},{"t":2015.13,"d":0.97,"a":0.15},{"t":2015.44,"d":0.66,"a":0.25},{"t":2015.72,"d":1.5,"a":0.7}
    ],
    "daily": [
      {"t":2003.01,"n":5},{"t":2003.02,"n":40},{"t":2003.04,"n":8},{"t":2003.06,"n":12},{"t":2003.08,"n":6},{"t":2003.10,"n":15},{"t":2003.12,"n":10},{"t":2003.14,"n":7},{"t":2003.15,"n":18},{"t":2003.17,"n":9},{"t":2003.19,"n":25},{"t":2003.20,"n":70},{"t":2003.21,"n":14},{"t":2003.22,"n":20},{"t":2003.24,"n":8},{"t":2003.25,"n":12},{"t":2003.27,"n":6},{"t":2003.29,"n":10},{"t":2003.30,"n":25},{"t":2003.32,"n":9},{"t":2003.35,"n":10},{"t":2003.37,"n":5},{"t":2003.40,"n":15},{"t":2003.42,"n":8},{"t":2003.45,"n":30},{"t":2003.47,"n":12},{"t":2003.50,"n":55},{"t":2003.51,"n":20},{"t":2003.52,"n":45},{"t":2003.54,"n":15},{"t":2003.55,"n":20},{"t":2003.57,"n":6},{"t":2003.60,"n":8},{"t":2003.65,"n":4},{"t":2003.70,"n":6},{"t":2003.75,"n":10},{"t":2003.78,"n":18},{"t":2003.80,"n":40},{"t":2003.82,"n":12},{"t":2003.85,"n":45},{"t":2003.87,"n":10},{"t":2003.90,"n":15},{"t":2003.95,"n":5},
      {"t":2004.00,"n":5},{"t":2004.10,"n":3},{"t":2004.20,"n":4},{"t":2004.35,"n":2},{"t":2004.50,"n":3},{"t":2004.65,"n":2},{"t":2004.80,"n":4},{"t":2005.00,"n":2},{"t":2005.20,"n":3},{"t":2005.35,"n":2},{"t":2005.50,"n":5},{"t":2005.65,"n":3},{"t":2005.80,"n":4},{"t":2005.95,"n":3},
      {"t":2006.05,"n":10},{"t":2006.08,"n":6},{"t":2006.10,"n":30},{"t":2006.12,"n":15},{"t":2006.13,"n":120},{"t":2006.14,"n":40},{"t":2006.15,"n":320},{"t":2006.16,"n":60},{"t":2006.17,"n":150},{"t":2006.18,"n":35},{"t":2006.19,"n":80},{"t":2006.20,"n":25},{"t":2006.21,"n":320},{"t":2006.22,"n":45},{"t":2006.23,"n":60},{"t":2006.25,"n":20},{"t":2006.26,"n":40},{"t":2006.28,"n":15},{"t":2006.30,"n":320},{"t":2006.31,"n":30},{"t":2006.33,"n":100},{"t":2006.35,"n":12},{"t":2006.40,"n":20},{"t":2006.45,"n":8},{"t":2006.50,"n":10},{"t":2006.60,"n":6},{"t":2006.70,"n":8},{"t":2006.80,"n":5},{"t":2006.90,"n":6},
      {"t":2007.00,"n":4},{"t":2007.10,"n":6},{"t":2007.20,"n":10},{"t":2007.30,"n":8},{"t":2007.40,"n":15},{"t":2007.45,"n":8},{"t":2007.50,"n":25},{"t":2007.55,"n":30},{"t":2007.58,"n":10},{"t":2007.60,"n":12},{"t":2007.70,"n":6},{"t":2007.80,"n":5},{"t":2007.90,"n":8},{"t":2007.98,"n":12},
      {"t":2008.00,"n":35},{"t":2008.02,"n":20},{"t":2008.03,"n":45},{"t":2008.05,"n":20},{"t":2008.10,"n":6},{"t":2008.20,"n":4},{"t":2008.30,"n":5},{"t":2008.45,"n":4},{"t":2008.60,"n":8},{"t":2008.70,"n":10},{"t":2008.75,"n":25},{"t":2008.76,"n":40},{"t":2008.77,"n":320},{"t":2008.78,"n":60},{"t":2008.80,"n":120},{"t":2008.81,"n":50},{"t":2008.82,"n":320},{"t":2008.84,"n":45},{"t":2008.85,"n":90},{"t":2008.87,"n":60},{"t":2008.88,"n":30},{"t":2008.90,"n":320},{"t":2008.91,"n":55},{"t":2008.92,"n":40},{"t":2008.94,"n":35},{"t":2008.95,"n":70},{"t":2008.96,"n":45},{"t":2008.97,"n":110},{"t":2008.98,"n":60},
      {"t":2009.00,"n":250},{"t":2009.01,"n":90},{"t":2009.02,"n":50},{"t":2009.03,"n":80},{"t":2009.04,"n":40},{"t":2009.05,"n":100},{"t":2009.06,"n":35},{"t":2009.07,"n":60},{"t":2009.08,"n":30},{"t":2009.10,"n":45},{"t":2009.12,"n":30},{"t":2009.15,"n":20},{"t":2009.18,"n":12},{"t":2009.20,"n":15},{"t":2009.25,"n":8},{"t":2009.30,"n":10},{"t":2009.35,"n":6},{"t":2009.40,"n":8},{"t":2009.45,"n":180},{"t":2009.47,"n":20},{"t":2009.50,"n":30},{"t":2009.54,"n":320},{"t":2009.56,"n":15},{"t":2009.60,"n":12},{"t":2009.62,"n":8},{"t":2009.67,"n":320},{"t":2009.70,"n":15},{"t":2009.75,"n":6},{"t":2009.80,"n":10},{"t":2009.90,"n":5},
      {"t":2010.00,"n":8},{"t":2010.10,"n":4},{"t":2010.20,"n":12},{"t":2010.30,"n":5},{"t":2010.40,"n":25},{"t":2010.42,"n":8},{"t":2010.45,"n":15},{"t":2010.50,"n":4},{"t":2010.60,"n":6},{"t":2010.70,"n":3},{"t":2010.80,"n":4},{"t":2010.93,"n":10},{"t":2010.95,"n":190},{"t":2010.96,"n":20},
      {"t":2011.00,"n":5},{"t":2011.20,"n":5},{"t":2011.35,"n":3},{"t":2011.50,"n":6},{"t":2011.65,"n":4},{"t":2011.80,"n":10},{"t":2011.90,"n":5},{"t":2012.00,"n":15},{"t":2012.05,"n":6},{"t":2012.10,"n":25},{"t":2012.15,"n":10},{"t":2012.25,"n":4},{"t":2012.40,"n":8},{"t":2012.50,"n":5},{"t":2012.60,"n":12},{"t":2012.75,"n":4},{"t":2012.90,"n":6},
      {"t":2013.00,"n":3},{"t":2013.10,"n":8},{"t":2013.20,"n":20},{"t":2013.22,"n":6},{"t":2013.35,"n":4},{"t":2013.50,"n":5},{"t":2013.65,"n":3},{"t":2013.80,"n":10},{"t":2013.88,"n":8},{"t":2013.90,"n":20},{"t":2013.95,"n":25},{"t":2013.97,"n":15},
      {"t":2014.00,"n":60},{"t":2014.01,"n":30},{"t":2014.02,"n":70},{"t":2014.03,"n":20},{"t":2014.05,"n":40},{"t":2014.07,"n":15},{"t":2014.08,"n":25},{"t":2014.10,"n":15},{"t":2014.15,"n":8},{"t":2014.20,"n":6},{"t":2014.30,"n":8},{"t":2014.45,"n":4},{"t":2014.60,"n":5},{"t":2014.75,"n":3},{"t":2014.90,"n":8},
      {"t":2015.00,"n":6},{"t":2015.05,"n":10},{"t":2015.10,"n":20},{"t":2015.12,"n":12},{"t":2015.15,"n":30},{"t":2015.17,"n":15},{"t":2015.20,"n":140},{"t":2015.22,"n":25},{"t":2015.25,"n":40},{"t":2015.27,"n":18},{"t":2015.30,"n":25},{"t":2015.33,"n":15},{"t":2015.35,"n":40},{"t":2015.37,"n":20},{"t":2015.40,"n":320},{"t":2015.41,"n":60},{"t":2015.43,"n":180},{"t":2015.44,"n":70},{"t":2015.45,"n":95},{"t":2015.46,"n":50},{"t":2015.48,"n":150},{"t":2015.49,"n":45},{"t":2015.50,"n":60},{"t":2015.52,"n":30},{"t":2015.55,"n":40},{"t":2015.57,"n":20},{"t":2015.60,"n":25},{"t":2015.65,"n":12},{"t":2015.70,"n":15},{"t":2015.75,"n":8},{"t":2015.80,"n":20},{"t":2015.85,"n":6},{"t":2015.90,"n":10},{"t":2015.95,"n":5},{"t":2016.00,"n":12},{"t":2016.05,"n":6}
    ],
    "cumulative": [
      {"t":2003.00,"c":0},{"t":2003.30,"c":670},{"t":2003.60,"c":1170},{"t":2003.85,"c":1840},{"t":2003.95,"c":2000},{"t":2004.50,"c":2180},{"t":2005.00,"c":2260},{"t":2006.00,"c":2680},{"t":2006.12,"c":2850},{"t":2006.15,"c":4520},{"t":2006.20,"c":5360},{"t":2006.25,"c":5700},{"t":2006.35,"c":6370},{"t":2006.50,"c":6535},{"t":2007.00,"c":6870},{"t":2007.50,"c":7200},{"t":2008.00,"c":7540},{"t":2008.05,"c":8550},{"t":2008.70,"c":8880},{"t":2008.78,"c":10060},{"t":2008.85,"c":10730},{"t":2009.00,"c":12740},{"t":2009.10,"c":14580},{"t":2009.20,"c":15750},{"t":2009.50,"c":16090},{"t":2009.65,"c":16590},{"t":2009.70,"c":17100},{"t":2010.00,"c":17600},{"t":2010.50,"c":18100},{"t":2011.00,"c":18600},{"t":2011.05,"c":19100},{"t":2012.00,"c":19780},{"t":2012.20,"c":20280},{"t":2013.00,"c":20780},{"t":2013.50,"c":20950},{"t":2013.90,"c":21100},{"t":2014.00,"c":21450},{"t":2014.10,"c":22620},{"t":2014.30,"c":22960},{"t":2015.00,"c":23130},{"t":2015.10,"c":23460},{"t":2015.20,"c":24130},{"t":2015.40,"c":24630},{"t":2015.45,"c":25970},{"t":2015.55,"c":26640},{"t":2015.80,"c":27150},{"t":2016.093,"c":27650}
    ],
    "arrival": [
      {"t":2003.000,"d":0.45},{"t":2003.005,"d":0.62},{"t":2003.010,"d":0.35},{"t":2003.015,"d":0.52},{"t":2003.020,"d":0.41},{"t":2003.025,"d":0.18},{"t":2003.030,"d":0.48},{"t":2003.040,"d":0.56},{"t":2003.050,"d":0.39},{"t":2003.060,"d":0.47},{"t":2003.070,"d":0.66},{"t":2003.080,"d":0.43},{"t":2003.090,"d":0.51},{"t":2003.100,"d":0.44},{"t":2003.110,"d":0.58},{"t":2003.120,"d":0.36},{"t":2003.130,"d":0.49},{"t":2003.140,"d":0.72},{"t":2003.150,"d":0.46},{"t":2003.160,"d":0.40},{"t":2003.170,"d":0.55},{"t":2003.180,"d":0.85},{"t":2003.190,"d":0.42},{"t":2003.200,"d":0.50},{"t":2003.210,"d":0.61},{"t":2003.220,"d":0.38},{"t":2003.230,"d":0.47},{"t":2003.240,"d":0.53},{"t":2003.250,"d":0.44},{"t":2003.260,"d":0.68},{"t":2003.270,"d":0.29},{"t":2003.280,"d":0.49},{"t":2003.290,"d":0.41},{"t":2003.300,"d":0.56},{"t":2003.310,"d":0.45},{"t":2003.320,"d":0.74},{"t":2003.330,"d":0.50},{"t":2003.340,"d":0.37},{"t":2003.350,"d":0.53},{"t":2003.360,"d":0.46},{"t":2003.370,"d":0.60},{"t":2003.380,"d":0.26},{"t":2003.390,"d":0.48},{"t":2003.400,"d":0.43},{"t":2003.410,"d":0.57},{"t":2003.420,"d":0.51},{"t":2003.430,"d":0.34},{"t":2003.440,"d":0.47},{"t":2003.450,"d":0.66},{"t":2003.460,"d":0.52},{"t":2003.470,"d":0.44},{"t":2003.480,"d":0.58},{"t":2003.490,"d":0.40},{"t":2003.500,"d":0.49},{"t":2003.510,"d":0.55},{"t":2003.520,"d":0.31},{"t":2003.530,"d":0.46},{"t":2003.540,"d":0.62},{"t":2003.550,"d":0.50},{"t":2003.560,"d":0.43},{"t":2003.570,"d":0.54},{"t":2003.580,"d":0.48},{"t":2003.590,"d":0.57},{"t":2003.600,"d":0.52},
      {"t":2003.035,"d":0.50},{"t":2003.065,"d":0.44},{"t":2003.095,"d":0.54},{"t":2003.125,"d":0.47},{"t":2003.155,"d":0.52},{"t":2003.185,"d":0.45},{"t":2003.215,"d":0.49},{"t":2003.245,"d":0.42},{"t":2003.275,"d":0.55},{"t":2003.305,"d":0.48},{"t":2003.335,"d":0.46},{"t":2003.365,"d":0.51},{"t":2003.395,"d":0.45},{"t":2003.425,"d":0.53},{"t":2003.455,"d":0.49},{"t":2003.485,"d":0.52},{"t":2003.515,"d":0.47},{"t":2003.545,"d":0.53},{"t":2003.575,"d":0.50},{"t":2003.595,"d":0.55},{"t":2003.510,"d":0.07},{"t":2003.515,"d":0.04},
      {"t":2003.760,"d":0.56},{"t":2003.765,"d":0.62},{"t":2003.770,"d":0.50},{"t":2003.775,"d":0.68},{"t":2003.780,"d":0.58},{"t":2003.785,"d":0.53},{"t":2003.790,"d":0.64},{"t":2003.795,"d":0.55},{"t":2003.800,"d":0.60},{"t":2003.805,"d":0.52},{"t":2003.810,"d":0.66},{"t":2003.815,"d":0.57},{"t":2003.820,"d":0.61},{"t":2003.830,"d":0.54},{"t":2003.840,"d":0.59},{"t":2003.850,"d":0.56},{"t":2003.760,"d":0.35},{"t":2003.765,"d":0.28},{"t":2003.770,"d":0.21},{"t":2003.765,"d":0.11},{"t":2003.780,"d":0.09},{"t":2003.790,"d":0.42},{"t":2003.800,"d":0.07},
      {"t":2003.92,"d":0.55},{"t":2003.96,"d":0.67},{"t":2003.99,"d":0.10},{"t":2004.00,"d":0.06},{"t":2004.005,"d":0.02},{"t":2004.03,"d":0.62},{"t":2004.06,"d":0.70},{"t":2004.09,"d":0.52},{"t":2004.12,"d":0.74},{"t":2004.14,"d":0.60},{"t":2004.17,"d":0.68},{"t":2004.20,"d":0.38},{"t":2004.22,"d":0.02},{"t":2004.26,"d":0.71},{"t":2004.29,"d":0.30},{"t":2004.31,"d":0.65},{"t":2004.34,"d":0.55},{"t":2004.37,"d":0.72},{"t":2004.40,"d":0.50},{"t":2004.45,"d":0.70},{"t":2004.48,"d":0.66},{"t":2004.50,"d":0.73},{"t":2004.52,"d":0.62},{"t":2004.55,"d":0.68},{"t":2004.57,"d":0.75},{"t":2004.59,"d":0.70},{"t":2004.61,"d":0.78},{"t":2004.62,"d":0.10},{"t":2004.63,"d":0.66},{"t":2004.64,"d":0.70},{"t":2004.65,"d":0.72},{"t":2004.66,"d":0.67},{"t":2004.67,"d":0.60},{"t":2004.68,"d":0.71},{"t":2004.69,"d":0.74},{"t":2004.70,"d":0.35},{"t":2004.71,"d":0.69},{"t":2004.72,"d":0.64},{"t":2004.73,"d":0.76},{"t":2004.74,"d":0.73},{"t":2004.75,"d":0.63},{"t":2004.76,"d":0.68},{"t":2004.77,"d":0.70},{"t":2004.78,"d":0.72},{"t":2004.79,"d":0.58},{"t":2004.80,"d":0.66},{"t":2004.81,"d":0.72},{"t":2004.83,"d":0.66},{"t":2004.85,"d":0.03},{"t":2004.87,"d":0.20},{"t":2004.88,"d":0.12},{"t":2004.90,"d":0.70},{"t":2004.93,"d":0.52},{"t":2004.96,"d":0.74},
      {"t":2005.00,"d":0.66},{"t":2005.04,"d":0.48},{"t":2005.07,"d":0.00},{"t":2005.09,"d":0.55},{"t":2005.12,"d":0.50},{"t":2005.14,"d":0.54},{"t":2005.17,"d":0.75},{"t":2005.19,"d":0.52},{"t":2005.21,"d":0.43},{"t":2005.23,"d":0.37},{"t":2005.26,"d":0.50},{"t":2005.29,"d":0.68},{"t":2005.32,"d":0.45},{"t":2005.35,"d":0.62},{"t":2005.38,"d":0.43},{"t":2005.40,"d":0.46},{"t":2005.43,"d":0.58},{"t":2005.46,"d":0.36},{"t":2005.50,"d":0.52},{"t":2005.55,"d":0.68},{"t":2005.58,"d":0.74},{"t":2005.62,"d":0.40},{"t":2005.66,"d":0.70},{"t":2005.70,"d":0.58},{"t":2005.74,"d":0.66},{"t":2005.78,"d":0.50},{"t":2005.82,"d":0.69},{"t":2005.86,"d":0.70},{"t":2005.90,"d":0.05},{"t":2005.92,"d":0.46},{"t":2005.95,"d":0.69},{"t":2005.98,"d":0.57},{"t":2006.02,"d":0.72},
      {"t":2006.120,"d":0.50},{"t":2006.130,"d":0.45},{"t":2006.140,"d":0.30},{"t":2006.142,"d":0.20},{"t":2006.145,"d":0.12},{"t":2006.150,"d":0.05},{"t":2006.152,"d":0.25},{"t":2006.155,"d":0.40},{"t":2006.160,"d":0.15},{"t":2006.162,"d":0.35},{"t":2006.165,"d":0.08},{"t":2006.170,"d":0.45},{"t":2006.172,"d":0.28},{"t":2006.175,"d":0.55},{"t":2006.180,"d":0.38},{"t":2006.182,"d":0.22},{"t":2006.185,"d":0.60},{"t":2006.190,"d":0.48},{"t":2006.192,"d":0.70},{"t":2006.200,"d":0.52},{"t":2006.202,"d":0.62},{"t":2006.210,"d":0.44},{"t":2006.212,"d":0.80},{"t":2006.220,"d":0.58},{"t":2006.222,"d":0.66},{"t":2006.230,"d":0.50},{"t":2006.232,"d":0.74},{"t":2006.240,"d":0.55},{"t":2006.242,"d":0.63},{"t":2006.250,"d":0.47},{"t":2006.252,"d":0.69},{"t":2006.260,"d":0.58},{"t":2006.270,"d":0.52},{"t":2006.272,"d":0.35},{"t":2006.280,"d":0.62},{"t":2006.290,"d":0.48},{"t":2006.300,"d":0.57},{"t":2006.310,"d":0.66},{"t":2006.320,"d":0.54},{"t":2006.330,"d":0.46},{"t":2006.332,"d":0.30},{"t":2006.340,"d":0.20},{"t":2006.342,"d":0.40},{"t":2006.345,"d":0.17},{"t":2006.350,"d":0.60},{"t":2006.360,"d":0.52},{"t":2006.370,"d":0.68},{"t":2006.380,"d":0.58},{"t":2006.390,"d":0.49},{"t":2006.400,"d":0.62},{"t":2006.420,"d":0.94},
      {"t":2006.42,"d":0.55},{"t":2006.45,"d":0.64},{"t":2006.46,"d":0.85},{"t":2006.48,"d":0.58},{"t":2006.50,"d":0.70},{"t":2006.52,"d":0.24},{"t":2006.53,"d":0.51},{"t":2006.55,"d":0.62},{"t":2006.58,"d":0.57},{"t":2006.60,"d":0.75},{"t":2006.62,"d":0.49},{"t":2006.65,"d":0.60},{"t":2006.67,"d":0.54},{"t":2006.70,"d":0.66},{"t":2006.72,"d":0.52},{"t":2006.74,"d":0.58},{"t":2006.76,"d":0.48},{"t":2006.78,"d":0.71},{"t":2006.80,"d":0.55},{"t":2006.82,"d":0.63},{"t":2006.84,"d":0.72},{"t":2006.86,"d":0.53},{"t":2006.88,"d":0.60},{"t":2006.90,"d":0.78},{"t":2006.93,"d":0.50},{"t":2006.95,"d":0.65},{"t":2006.97,"d":0.58},
      {"t":2007.34,"d":0.62},{"t":2007.36,"d":0.53},{"t":2007.38,"d":0.58},{"t":2007.41,"d":0.50},{"t":2007.44,"d":0.66},{"t":2007.47,"d":0.54},{"t":2007.48,"d":0.18},{"t":2007.49,"d":0.50},{"t":2007.52,"d":0.56},{"t":2007.55,"d":0.52},{"t":2007.58,"d":0.60},{"t":2007.60,"d":0.53},{"t":2007.62,"d":0.48},{"t":2007.65,"d":0.56},{"t":2007.67,"d":0.62},{"t":2007.70,"d":0.50},{"t":2007.73,"d":0.53},{"t":2007.76,"d":0.45},{"t":2007.80,"d":0.56},{"t":2007.84,"d":0.52},{"t":2007.88,"d":0.49},{"t":2007.92,"d":0.57},{"t":2007.96,"d":0.54},
      {"t":2008.000,"d":0.53},{"t":2008.005,"d":0.47},{"t":2008.010,"d":0.41},{"t":2008.012,"d":0.35},{"t":2008.015,"d":0.30},{"t":2008.020,"d":0.44},{"t":2008.022,"d":0.50},{"t":2008.025,"d":0.38},{"t":2008.030,"d":0.55},
      {"t":2008.08,"d":0.52},{"t":2008.12,"d":0.62},{"t":2008.16,"d":0.48},{"t":2008.20,"d":0.56},{"t":2008.24,"d":0.66},{"t":2008.28,"d":0.50},{"t":2008.32,"d":0.57},{"t":2008.36,"d":0.45},{"t":2008.38,"d":0.55},{"t":2008.40,"d":0.60},{"t":2008.44,"d":0.54},{"t":2008.46,"d":0.50},{"t":2008.48,"d":0.69},{"t":2008.51,"d":0.47},{"t":2008.54,"d":0.58},{"t":2008.56,"d":0.68},{"t":2008.57,"d":0.52},{"t":2008.60,"d":0.64},{"t":2008.63,"d":0.55},{"t":2008.66,"d":0.49},{"t":2008.69,"d":0.60},{"t":2008.72,"d":0.57},
      {"t":2008.770,"d":0.45},{"t":2008.780,"d":0.38},{"t":2008.782,"d":0.28},{"t":2008.785,"d":0.52},{"t":2008.790,"d":0.22},{"t":2008.792,"d":0.42},{"t":2008.800,"d":0.32},{"t":2008.802,"d":0.48},{"t":2008.810,"d":0.25},{"t":2008.812,"d":0.55},{"t":2008.820,"d":0.36},{"t":2008.822,"d":0.45},{"t":2008.83,"d":0.50},{"t":2008.84,"d":0.42},{"t":2008.845,"d":0.50},{"t":2008.85,"d":0.58},{"t":2008.86,"d":0.47},{"t":2008.865,"d":0.54},{"t":2008.87,"d":0.53},{"t":2008.88,"d":0.44},{"t":2008.89,"d":0.61},{"t":2008.90,"d":0.50},{"t":2008.905,"d":0.53},{"t":2008.91,"d":0.56},{"t":2008.92,"d":0.47},{"t":2008.925,"d":0.57},{"t":2008.93,"d":0.60},{"t":2008.94,"d":0.52},{"t":2008.95,"d":0.65},{"t":2008.955,"d":0.58},{"t":2008.96,"d":0.55},{"t":2008.97,"d":0.49},{"t":2008.975,"d":0.60},{"t":2008.98,"d":0.62},{"t":2008.99,"d":0.57},{"t":2008.995,"d":0.55},
      {"t":2009.00,"d":0.53},{"t":2009.01,"d":0.68},{"t":2009.015,"d":0.62},{"t":2009.02,"d":0.58},{"t":2009.03,"d":0.50},{"t":2009.035,"d":0.57},{"t":2009.04,"d":0.63},{"t":2009.05,"d":0.56},{"t":2009.055,"d":0.60},{"t":2009.06,"d":0.70},{"t":2009.07,"d":0.59},{"t":2009.075,"d":0.55},{"t":2009.08,"d":0.52},{"t":2009.085,"d":0.74},{"t":2009.09,"d":0.64},{"t":2009.095,"d":0.59},{"t":2009.10,"d":0.57},{"t":2009.11,"d":0.61},{"t":2009.115,"d":0.57},{"t":2009.12,"d":0.54},{"t":2009.13,"d":0.67},{"t":2009.135,"d":0.61},{"t":2009.14,"d":0.58},{"t":2009.145,"d":0.78},{"t":2009.15,"d":0.50},{"t":2009.155,"d":0.56},{"t":2009.16,"d":0.62},{"t":2009.17,"d":0.55},{"t":2009.175,"d":0.58},{"t":2009.18,"d":0.60},{"t":2009.19,"d":0.52},{"t":2009.20,"d":0.57},{"t":2009.22,"d":0.63},{"t":2009.24,"d":0.54},{"t":2009.26,"d":0.59},{"t":2009.28,"d":0.50},{"t":2009.30,"d":0.56},{"t":2009.32,"d":0.62},
      {"t":2009.46,"d":0.58},{"t":2009.48,"d":0.52},{"t":2009.50,"d":0.62},{"t":2009.51,"d":0.57},{"t":2009.52,"d":0.55},{"t":2009.53,"d":0.59},{"t":2009.54,"d":0.49},{"t":2009.55,"d":0.75},{"t":2009.56,"d":0.60},{"t":2009.57,"d":0.53},{"t":2009.58,"d":0.54},{"t":2009.60,"d":0.66},{"t":2009.61,"d":0.58},{"t":2009.62,"d":0.56},{"t":2009.63,"d":0.40},{"t":2009.64,"d":0.51},{"t":2009.65,"d":0.55},{"t":2009.66,"d":0.60},{"t":2009.67,"d":0.63},{"t":2009.68,"d":0.55},{"t":2009.69,"d":0.56},{"t":2009.70,"d":0.72},{"t":2009.72,"d":0.57},{"t":2009.74,"d":0.52},{"t":2009.76,"d":0.60},{"t":2009.78,"d":0.46},
      {"t":2009.84,"d":0.52},{"t":2009.88,"d":0.58},{"t":2009.92,"d":0.49},{"t":2009.96,"d":0.62},{"t":2010.00,"d":0.55},{"t":2010.04,"d":0.47},{"t":2010.08,"d":0.60},{"t":2010.12,"d":0.52},{"t":2010.16,"d":0.57},{"t":2010.20,"d":0.48},{"t":2010.24,"d":0.63},{"t":2010.28,"d":0.54},{"t":2010.32,"d":0.50},{"t":2010.36,"d":0.58},{"t":2010.38,"d":0.45},{"t":2010.40,"d":0.55},{"t":2010.41,"d":0.52},{"t":2010.42,"d":0.48},{"t":2010.43,"d":0.44},{"t":2010.44,"d":0.60},{"t":2010.45,"d":0.50},{"t":2010.46,"d":0.51},{"t":2010.48,"d":0.53},{"t":2010.52,"d":0.46},{"t":2010.56,"d":0.58},{"t":2010.57,"d":0.70},{"t":2010.60,"d":0.50},{"t":2010.64,"d":0.62},{"t":2010.68,"d":0.53},{"t":2010.70,"d":0.66},{"t":2010.72,"d":0.47},{"t":2010.76,"d":0.57},{"t":2010.80,"d":0.50},{"t":2010.84,"d":0.60},{"t":2010.88,"d":0.52},
      {"t":2010.930,"d":0.42},{"t":2010.935,"d":0.35},{"t":2010.940,"d":0.28},{"t":2010.942,"d":0.22},{"t":2010.945,"d":0.38},{"t":2010.950,"d":0.45},{"t":2010.955,"d":0.30},{"t":2010.960,"d":0.50},
      {"t":2011.00,"d":0.52},{"t":2011.04,"d":0.58},{"t":2011.05,"d":0.45},{"t":2011.08,"d":0.47},{"t":2011.10,"d":0.42},{"t":2011.12,"d":0.60},{"t":2011.16,"d":0.53},{"t":2011.20,"d":0.49},{"t":2011.24,"d":0.56},{"t":2011.28,"d":0.61},{"t":2011.32,"d":0.50},{"t":2011.36,"d":0.55},{"t":2011.40,"d":0.45},{"t":2011.44,"d":0.58},{"t":2011.48,"d":0.52},{"t":2011.52,"d":0.64},{"t":2011.56,"d":0.48},{"t":2011.60,"d":0.54},
      {"t":2011.66,"d":0.55},{"t":2011.67,"d":0.52},{"t":2011.68,"d":0.48},{"t":2011.70,"d":0.60},{"t":2011.71,"d":0.56},{"t":2011.72,"d":0.52},{"t":2011.73,"d":0.40},{"t":2011.74,"d":0.45},{"t":2011.75,"d":0.53},{"t":2011.76,"d":0.57},{"t":2011.78,"d":0.50},{"t":2011.79,"d":0.55},{"t":2011.80,"d":0.63},{"t":2011.81,"d":0.70},{"t":2011.82,"d":0.53},{"t":2011.83,"d":0.50},{"t":2011.84,"d":0.47},{"t":2011.86,"d":0.58},{"t":2011.87,"d":0.54},{"t":2011.88,"d":0.51},{"t":2011.89,"d":0.68},{"t":2011.90,"d":0.56},{"t":2011.91,"d":0.58},{"t":2011.92,"d":0.44},{"t":2011.93,"d":0.92},{"t":2011.94,"d":0.60},{"t":2011.95,"d":0.53},{"t":2011.96,"d":0.52},{"t":2011.98,"d":0.48},{"t":2011.99,"d":0.55},{"t":2012.00,"d":0.57},{"t":2012.02,"d":0.50},{"t":2012.03,"d":0.53},{"t":2012.04,"d":0.62},{"t":2012.05,"d":0.72},{"t":2012.06,"d":0.54},{"t":2012.07,"d":0.58},{"t":2012.08,"d":0.47},{"t":2012.09,"d":0.42},{"t":2012.10,"d":0.56},{"t":2012.11,"d":0.52},{"t":2012.12,"d":0.51},{"t":2012.14,"d":0.60},{"t":2012.15,"d":0.55},{"t":2012.16,"d":0.49},{"t":2012.18,"d":0.55},
      {"t":2012.22,"d":0.55},{"t":2012.26,"d":0.48},{"t":2012.30,"d":0.60},{"t":2012.34,"d":0.52},{"t":2012.38,"d":0.57},{"t":2012.40,"d":0.38},{"t":2012.42,"d":0.46},{"t":2012.46,"d":0.53},{"t":2012.50,"d":0.62},{"t":2012.54,"d":0.50},{"t":2012.58,"d":0.55},{"t":2012.62,"d":0.48},{"t":2012.66,"d":0.58},{"t":2012.70,"d":0.52},{"t":2012.71,"d":0.70},{"t":2012.74,"d":0.63},{"t":2012.78,"d":0.49},{"t":2012.82,"d":0.56},{"t":2012.86,"d":0.51},{"t":2012.90,"d":0.60},{"t":2012.94,"d":0.47},{"t":2012.98,"d":0.54},{"t":2013.00,"d":0.68},{"t":2013.02,"d":0.58},{"t":2013.06,"d":0.50},{"t":2013.10,"d":0.56},{"t":2013.14,"d":0.48},{"t":2013.18,"d":0.53},{"t":2013.190,"d":0.45},{"t":2013.195,"d":0.40},{"t":2013.200,"d":0.50},{"t":2013.205,"d":0.43},{"t":2013.210,"d":0.55},{"t":2013.24,"d":0.52},{"t":2013.28,"d":0.60},{"t":2013.30,"d":0.66},{"t":2013.32,"d":0.49},{"t":2013.36,"d":0.55},{"t":2013.40,"d":0.58},{"t":2013.44,"d":0.50},{"t":2013.48,"d":0.62},{"t":2013.52,"d":0.54},{"t":2013.56,"d":0.57},{"t":2013.60,"d":0.48},{"t":2013.64,"d":0.60},{"t":2013.68,"d":0.55},{"t":2013.72,"d":0.52},{"t":2013.76,"d":0.58},{"t":2013.80,"d":0.50},{"t":2013.84,"d":0.63},{"t":2013.88,"d":0.56},
      {"t":2013.92,"d":0.55},{"t":2013.94,"d":0.60},{"t":2013.96,"d":0.52},{"t":2013.98,"d":0.66},{"t":2014.00,"d":0.57},{"t":2014.01,"d":0.62},{"t":2014.02,"d":0.50},{"t":2014.021,"d":1.0},{"t":2014.025,"d":0.60},{"t":2014.03,"d":0.68},{"t":2014.04,"d":0.58},{"t":2014.041,"d":0.88},{"t":2014.045,"d":0.63},{"t":2014.05,"d":0.54},{"t":2014.051,"d":0.82},{"t":2014.06,"d":0.72},{"t":2014.061,"d":0.35},{"t":2014.065,"d":0.57},{"t":2014.07,"d":0.60},{"t":2014.08,"d":0.48},{"t":2014.081,"d":0.40},{"t":2014.085,"d":0.61},{"t":2014.09,"d":0.65},{"t":2014.10,"d":0.56},{"t":2014.105,"d":0.59},{"t":2014.11,"d":0.62},{"t":2014.12,"d":0.52},{"t":2014.121,"d":0.42},{"t":2014.125,"d":0.64},{"t":2014.13,"d":0.70},{"t":2014.14,"d":0.58},{"t":2014.145,"d":0.57},{"t":2014.15,"d":0.55},{"t":2014.16,"d":0.63},{"t":2014.17,"d":0.50},{"t":2014.18,"d":0.60},{"t":2014.20,"d":0.54},{"t":2014.22,"d":0.58},
      {"t":2014.26,"d":0.52},{"t":2014.30,"d":0.60},{"t":2014.34,"d":0.48},{"t":2014.38,"d":0.56},{"t":2014.42,"d":0.62},{"t":2014.46,"d":0.50},{"t":2014.50,"d":0.55},{"t":2014.54,"d":0.67},{"t":2014.58,"d":0.52},{"t":2014.60,"d":0.72},{"t":2014.62,"d":0.58},{"t":2014.66,"d":0.47},{"t":2014.70,"d":0.55},{"t":2014.72,"d":0.70},{"t":2014.74,"d":0.61},{"t":2014.78,"d":0.50},{"t":2014.80,"d":0.45},{"t":2014.82,"d":0.57},{"t":2014.86,"d":0.53},{"t":2014.90,"d":0.60},{"t":2014.94,"d":0.48},{"t":2014.98,"d":0.55},
      {"t":2015.10,"d":0.48},{"t":2015.12,"d":0.42},{"t":2015.13,"d":0.46},{"t":2015.14,"d":0.52},{"t":2015.141,"d":0.25},{"t":2015.15,"d":0.36},{"t":2015.16,"d":0.47},{"t":2015.17,"d":0.49},{"t":2015.18,"d":0.55},{"t":2015.19,"d":0.40},{"t":2015.20,"d":0.45},{"t":2015.201,"d":0.30},{"t":2015.21,"d":0.44},{"t":2015.22,"d":0.50},{"t":2015.23,"d":0.38},{"t":2015.24,"d":0.46},{"t":2015.25,"d":0.48},{"t":2015.26,"d":0.53},{"t":2015.27,"d":0.41},{"t":2015.28,"d":0.47},{"t":2015.29,"d":0.46},{"t":2015.30,"d":0.44},{"t":2015.31,"d":0.56},{"t":2015.32,"d":0.39},{"t":2015.321,"d":0.62},{"t":2015.33,"d":0.45},{"t":2015.34,"d":0.48},{"t":2015.35,"d":0.43},{"t":2015.36,"d":0.51},{"t":2015.37,"d":0.47},{"t":2015.38,"d":0.45},{"t":2015.39,"d":0.37},{"t":2015.40,"d":0.49},{"t":2015.41,"d":0.46},{"t":2015.42,"d":0.44},{"t":2015.43,"d":0.54},{"t":2015.44,"d":0.40},{"t":2015.45,"d":0.44},{"t":2015.451,"d":0.78},{"t":2015.46,"d":0.47},{"t":2015.47,"d":0.30},{"t":2015.48,"d":0.22},{"t":2015.49,"d":0.42},{"t":2015.491,"d":0.08},{"t":2015.50,"d":0.15},{"t":2015.501,"d":0.35},{"t":2015.51,"d":0.26},{"t":2015.52,"d":0.45},{"t":2015.521,"d":0.10},{"t":2015.53,"d":0.18},{"t":2015.54,"d":0.50},{"t":2015.55,"d":0.40},{"t":2015.56,"d":0.46},{"t":2015.57,"d":0.45},{"t":2015.58,"d":0.52},{"t":2015.59,"d":0.42},{"t":2015.60,"d":0.48},{"t":2015.601,"d":0.62},{"t":2015.61,"d":0.47},{"t":2015.62,"d":0.44},{"t":2015.63,"d":0.55},{"t":2015.64,"d":0.40},{"t":2015.65,"d":0.45},{"t":2015.66,"d":0.47},{"t":2015.67,"d":0.51},{"t":2015.68,"d":0.43},{"t":2015.69,"d":0.46},{"t":2015.70,"d":0.49},{"t":2015.701,"d":0.60},{"t":2015.71,"d":0.38},{"t":2015.72,"d":0.46},{"t":2015.73,"d":0.44},{"t":2015.74,"d":0.53},{"t":2015.75,"d":0.44},{"t":2015.76,"d":0.48},{"t":2015.77,"d":0.47},{"t":2015.78,"d":0.41},{"t":2015.79,"d":0.56},{"t":2015.80,"d":0.46},{"t":2015.81,"d":0.45},{"t":2015.82,"d":0.50},{"t":2015.83,"d":0.43},{"t":2015.84,"d":0.48},{"t":2015.85,"d":0.46},{"t":2015.851,"d":0.62},{"t":2015.86,"d":0.52},{"t":2015.87,"d":0.40},{"t":2015.88,"d":0.47},{"t":2015.89,"d":0.44},{"t":2015.90,"d":0.55},{"t":2015.91,"d":0.44},{"t":2015.92,"d":0.49},{"t":2015.93,"d":0.47},{"t":2015.94,"d":0.42},{"t":2015.95,"d":0.51},{"t":2015.96,"d":0.46},{"t":2015.961,"d":0.20},{"t":2015.97,"d":0.45},{"t":2015.98,"d":0.53},{"t":2015.99,"d":0.45},{"t":2016.00,"d":0.48},{"t":2016.01,"d":0.46},{"t":2016.02,"d":0.41},{"t":2016.03,"d":0.55},{"t":2016.04,"d":0.47},{"t":2016.05,"d":0.60}
    ]
  },
  "vconcat": [
    {
      "width": 1123, "height": 33,
      "layer": [
        {
          "data": {"name": "eruptions"},
          "mark": {"type": "point", "shape": "triangle-up", "filled": true, "color": "#c0504d", "size": 110, "opacity": 1},
          "encoding": {
            "x": {"field": "t", "type": "quantitative", "scale": {"domain": [2003, 2016.093], "nice": false, "zero": false},
                  "axis": {"title": null, "tickCount": 1000, "values": [2003,2003.5,2004,2004.5,2005,2005.5,2006,2006.5,2007,2007.5,2008,2008.5,2009,2009.5,2010,2010.5,2011,2011.5,2012,2012.5,2013,2013.5,2014,2014.5,2015,2015.5,2016],
                           "labelExpr": "datum.value % 1 === 0 ? '' + datum.value : ''", "labelPadding": 9, "grid": false}},
            "y": {"datum": 0.5, "type": "quantitative", "scale": {"domain": [0, 1]}, "axis": null}
          }
        },
        {
          "data": {"values": [{}]},
          "mark": {"type": "rect", "fill": "white", "stroke": "black", "strokeWidth": 1.5},
          "encoding": {
            "x": {"datum": 2003.07, "type": "quantitative"}, "x2": {"datum": 2003.75},
            "y": {"datum": 0.73, "type": "quantitative"}, "y2": {"datum": 0.18}
          }
        },
        {
          "data": {"values": [{}]},
          "mark": {"type": "text", "text": "噴火", "fontSize": 15, "baseline": "middle", "align": "center"},
          "encoding": {
            "x": {"datum": 2003.41, "type": "quantitative"},
            "y": {"datum": 0.455, "type": "quantitative"}
          }
        }
      ]
    },
    {"width": 1123, "height": 42, "data": {"values": []}, "mark": "point"},
    {
      "width": 1123, "height": 165,
      "view": {"stroke": "black", "strokeWidth": 2},
      "layer": [
        {
          "data": {"name": "plume"},
          "mark": {"type": "point", "filled": false, "color": "black", "size": 26, "strokeWidth": 1.1, "opacity": 1},
          "encoding": {
            "x": {"field": "t", "type": "quantitative", "scale": {"domain": [2003, 2016.093], "nice": false, "zero": false},
                  "axis": {"title": null, "labels": false, "tickCount": 1000, "values": [2003,2003.5,2004,2004.5,2005,2005.5,2006,2006.5,2007,2007.5,2008,2008.5,2009,2009.5,2010,2010.5,2011,2011.5,2012,2012.5,2013,2013.5,2014,2014.5,2015,2015.5,2016],
                           "grid": true, "gridOpacity": {"condition": {"test": "datum.value % 1 !== 0", "value": 0}, "value": 1}}},
            "y": {"field": "h", "type": "quantitative", "scale": {"domain": [0, 600], "nice": false},
                  "axis": {"values": [0,100,200,300,400,500,600], "tickCount": 1000, "format": "d", "grid": true, "title": "[m]",
                           "titleAngle": 0, "titleAlign": "center", "titleBaseline": "middle", "titleX": -65, "titleY": -14}}
          }
        },
        {
          "data": {"name": "gaps"},
          "mark": {"type": "rect", "color": "#ff66cc", "opacity": 1},
          "encoding": {
            "x": {"field": "a", "type": "quantitative", "title": null}, "x2": {"field": "b"},
            "y": {"datum": 11, "type": "quantitative"}, "y2": {"datum": 600}
          }
        },
        {
          "data": {"values": [{}]},
          "mark": {"type": "rect", "fill": "white", "stroke": "black", "strokeWidth": 1.5},
          "encoding": {
            "x": {"datum": 2003.08, "type": "quantitative"}, "x2": {"datum": 2006.58},
            "y": {"datum": 585, "type": "quantitative"}, "y2": {"datum": 505}
          }
        },
        {
          "data": {"values": [{}]},
          "mark": {"type": "text", "text": "気温で補正した噴煙の長さ(96-1火口)", "fontSize": 16, "baseline": "middle", "align": "center"},
          "encoding": {
            "x": {"datum": 2004.83, "type": "quantitative"},
            "y": {"datum": 545, "type": "quantitative"}
          }
        }
      ]
    },
    {"width": 1123, "height": 25, "data": {"values": []}, "mark": "point"},
    {
      "width": 1123, "height": 136,
      "view": {"stroke": "black", "strokeWidth": 2},
      "layer": [
        {
          "data": {"name": "temps"},
          "mark": {"type": "point", "size": 50, "strokeWidth": 1.3, "opacity": 1},
          "encoding": {
            "x": {"field": "t", "type": "quantitative", "scale": {"domain": [2003, 2016.093], "nice": false, "zero": false},
                  "axis": {"title": null, "labels": false, "grid": false, "tickCount": 1000, "values": [2003,2003.5,2004,2004.5,2005,2005.5,2006,2006.5,2007,2007.5,2008,2008.5,2009,2009.5,2010,2010.5,2011,2011.5,2012,2012.5,2013,2013.5,2014,2014.5,2015,2015.5,2016]}},
            "y": {"field": "v", "type": "quantitative", "scale": {"domain": [0, 500], "nice": false},
                  "axis": {"values": [0,100,200,300,400,500], "tickCount": 1000, "format": "d", "grid": true, "title": "[m]",
                           "titleAngle": 0, "titleAlign": "center", "titleBaseline": "middle", "titleX": -65, "titleY": 1}},
            "shape": {"field": "s", "type": "nominal", "scale": {"domain": ["第4火口", "96-1火口壁西側内壁", "96-1火口底"], "range": ["M-1,0H1M0,-1V1", "circle", "circle"]}},
            "fill": {"field": "s", "type": "nominal", "scale": {"domain": ["第4火口", "96-1火口壁西側内壁", "96-1火口底"], "range": ["transparent", "transparent", "#23a047"]}},
            "stroke": {"field": "s", "type": "nominal", "scale": {"domain": ["第4火口", "96-1火口壁西側内壁", "96-1火口底"], "range": ["#d00000", "#0000ff", "#1c4d2a"]},
                       "legend": {"orient": "top-right", "direction": "horizontal", "title": null, "offset": 6, "labelFontSize": 15, "symbolSize": 45, "symbolStrokeWidth": 1.3, "columnPadding": 14, "labelColor": "black"}}
          }
        },
        {
          "data": {"values": [{}]},
          "mark": {"type": "rect", "fill": "white", "stroke": "black", "strokeWidth": 1.5},
          "encoding": {
            "x": {"datum": 2003.16, "type": "quantitative"}, "x2": {"datum": 2005.72},
            "y": {"datum": 522, "type": "quantitative"}, "y2": {"datum": 441}
          }
        },
        {
          "data": {"values": [{}]},
          "mark": {"type": "text", "text": "ポンマチネシリ火口温度", "fontSize": 16, "baseline": "middle", "align": "center"},
          "encoding": {
            "x": {"datum": 2004.44, "type": "quantitative"},
            "y": {"datum": 481, "type": "quantitative"}
          }
        }
      ]
    },
    {"width": 1123, "height": 22, "data": {"values": []}, "mark": "point"},
    {
      "width": 1123, "height": 272,
      "view": {"stroke": "black", "strokeWidth": 2},
      "resolve": {"axis": {"x": "independent"}},
      "layer": [
        {
          "data": {"name": "mag"},
          "mark": {"type": "line", "color": "black", "strokeWidth": 3},
          "encoding": {
            "x": {"field": "t", "type": "quantitative", "scale": {"domain": [2003, 2016.093], "nice": false, "zero": false},
                  "axis": {"orient": "bottom", "title": null, "grid": false, "tickCount": 131, "domainColor": "black", "tickColor": "black",
                           "labelExpr": "datum.value % 1 === 0 ? datum.value + '/1' : ''", "labelFontSize": 19, "labelFontWeight": "bold", "labelPadding": 8}},
            "y": {"field": "v", "type": "quantitative", "scale": {"domain": [-2.5, 20], "nice": false, "zero": false},
                  "axis": {"values": [-2.5,0,2.5,5,7.5,10,12.5,15,17.5,20], "tickCount": 1000, "labels": false, "grid": true, "tickColor": "black", "domainColor": "black",
                           "title": "5nT/div", "titleFontSize": 19, "titleFontWeight": "bold", "titleAngle": -90, "titleAlign": "center", "titleBaseline": "middle", "titleX": -19, "titleY": 145}},
            "detail": {"field": "g", "type": "nominal"}
          }
        },
        {
          "data": {"name": "blackArrows"},
          "mark": {"type": "rule", "color": "black", "strokeWidth": 2.5},
          "encoding": {
            "x": {"field": "t", "type": "quantitative",
                  "axis": {"orient": "top", "title": null, "labels": false, "ticks": false, "domain": false, "grid": true, "tickCount": 1000,
                           "values": [2003.000,2003.219,2003.438,2003.658,2003.877,2004.096,2004.315,2004.534,2004.753,2004.973,2005.192,2005.411,2005.630,2005.849,2006.069,2006.288,2006.507,2006.726,2006.945,2007.164,2007.384,2007.603,2007.822,2008.041,2008.260,2008.480,2008.699,2008.918,2009.137,2009.356,2009.575,2009.795,2010.014,2010.233,2010.452,2010.671,2010.890,2011.110,2011.329,2011.548,2011.767,2011.986,2012.206,2012.425,2012.644,2012.863,2013.082,2013.301,2013.521,2013.740,2013.959,2014.178,2014.397,2014.616,2014.836,2015.055,2015.274,2015.493,2015.712,2015.932]}},
            "y": {"field": "y0", "type": "quantitative"}, "y2": {"field": "y1"}
          }
        },
        {
          "data": {"name": "blackArrows"},
          "mark": {"type": "point", "shape": "triangle-up", "filled": true, "color": "black", "size": 80, "opacity": 1},
          "encoding": {
            "x": {"field": "t", "type": "quantitative", "axis": null},
            "y": {"field": "h", "type": "quantitative"}
          }
        },
        {
          "data": {"name": "redArrows"},
          "mark": {"type": "rule", "color": "#c00000", "strokeWidth": 2.5},
          "encoding": {
            "x": {"field": "x", "type": "quantitative", "axis": null}, "x2": {"field": "x2"},
            "y": {"field": "y", "type": "quantitative"}, "y2": {"field": "y2"}
          }
        },
        {
          "data": {"name": "redArrows"},
          "mark": {"type": "point", "shape": "triangle-up", "filled": true, "color": "#c00000", "size": 150, "opacity": 1},
          "encoding": {
            "x": {"field": "x2", "type": "quantitative", "axis": null},
            "y": {"field": "y2", "type": "quantitative"},
            "angle": {"field": "k", "type": "ordinal", "scale": {"domain": [1, 2, 3, 4], "range": [77.9, 161.8, 139.3, 136.3]}, "legend": null}
          }
        },
        {
          "data": {"name": "notes"},
          "mark": {"type": "rect", "fill": "white", "stroke": "black", "strokeWidth": 1.5},
          "encoding": {
            "x": {"field": "a", "type": "quantitative", "axis": null}, "x2": {"field": "b"},
            "y": {"datum": 2.545, "type": "quantitative"}, "y2": {"datum": -1.425}
          }
        },
        {
          "data": {"name": "notes"},
          "mark": {"type": "text", "fontSize": 18.5, "baseline": "middle", "align": "center", "letterSpacing": 2},
          "encoding": {
            "x": {"field": "c", "type": "quantitative", "axis": null},
            "y": {"datum": 1.47, "type": "quantitative"},
            "text": {"field": "l1", "type": "nominal"}
          }
        },
        {
          "data": {"name": "notes"},
          "mark": {"type": "text", "fontSize": 18.5, "baseline": "middle", "align": "center", "letterSpacing": 2},
          "encoding": {
            "x": {"field": "c", "type": "quantitative", "axis": null},
            "y": {"datum": -0.515, "type": "quantitative"},
            "text": {"field": "l2", "type": "nominal"}
          }
        }
      ]
    },
    {"width": 1123, "height": 51, "data": {"values": []}, "mark": "point"},
    {
      "width": 1123, "height": 127,
      "view": {"stroke": "black", "strokeWidth": 2},
      "layer": [
        {
          "data": {"name": "tremor"},
          "mark": {"type": "point", "filled": false, "color": "black", "strokeWidth": 1, "opacity": 1},
          "encoding": {
            "x": {"field": "t", "type": "quantitative", "scale": {"domain": [2003, 2016.093], "nice": false, "zero": false},
                  "axis": {"title": null, "labels": false, "grid": false, "tickCount": 1000, "values": [2003,2003.5,2004,2004.5,2005,2005.5,2006,2006.5,2007,2007.5,2008,2008.5,2009,2009.5,2010,2010.5,2011,2011.5,2012,2012.5,2013,2013.5,2014,2014.5,2015,2015.5,2016]}},
            "y": {"field": "d", "type": "quantitative", "scale": {"type": "log", "domain": [0.1, 10000], "nice": false},
                  "axis": {"values": [0.1, 1, 10, 100, 1000, 10000], "tickCount": 1000, "format": "~g", "grid": true, "title": "[分]",
                           "titleAngle": 0, "titleAlign": "center", "titleBaseline": "middle", "titleX": -77, "titleY": 17}},
            "size": {"field": "a", "type": "quantitative", "scale": {"type": "pow", "exponent": 2, "domain": [0, 2], "range": [0, 484]},
                     "legend": {"orient": "top-right", "offset": 5, "title": null, "values": [1.0, 0.1], "labelExpr": "format(datum.value, '.1f') + 'μm'",
                                "strokeColor": "black", "fillColor": "white", "padding": 7, "labelFontSize": 13, "labelColor": "#6b4423",
                                "symbolStrokeColor": "black", "symbolFillColor": "transparent", "symbolStrokeWidth": 1, "rowPadding": 4, "labelOffset": 20}}
          }
        },
        {
          "data": {"values": [{}]},
          "mark": {"type": "rect", "fill": "white", "stroke": "black", "strokeWidth": 1.5},
          "encoding": {
            "x": {"datum": 2003.02, "type": "quantitative"}, "x2": {"datum": 2008.28},
            "y": {"datum": 10000, "type": "quantitative"}, "y2": {"datum": 1243}
          }
        },
        {
          "data": {"values": [{}]},
          "mark": {"type": "text", "text": "微動の継続時間と最大振幅(オンネトー南東上下変位)", "fontSize": 16, "baseline": "middle", "align": "center"},
          "encoding": {
            "x": {"datum": 2005.66, "type": "quantitative"},
            "y": {"datum": 3373, "type": "quantitative"}
          }
        }
      ]
    },
    {"width": 1123, "height": 32, "data": {"values": []}, "mark": "point"},
    {
      "width": 1123, "height": 179,
      "view": {"stroke": "black", "strokeWidth": 2},
      "resolve": {"scale": {"y": "independent"}},
      "layer": [
        {
          "layer": [
            {
              "data": {"name": "daily"},
              "mark": {"type": "rule", "color": "black", "strokeWidth": 1, "clip": true},
              "encoding": {
                "x": {"field": "t", "type": "quantitative", "scale": {"domain": [2003, 2016.093], "nice": false, "zero": false},
                      "axis": {"title": null, "grid": false, "tickCount": 1000, "values": [2003,2004,2005,2006,2007,2008,2009,2010,2011,2012,2013,2014,2015,2016],
                               "labelExpr": "'' + datum.value", "labelPadding": 9}},
                "y": {"field": "n", "type": "quantitative", "scale": {"domain": [0, 300], "nice": false},
                      "axis": {"values": [0,50,100,150,200,250,300], "tickCount": 1000, "format": "d", "grid": true, "title": "[回]",
                               "titleAngle": 0, "titleAlign": "center", "titleBaseline": "middle", "titleX": -77, "titleY": -5}},
                "y2": {"datum": 0}
              }
            },
            {
              "data": {"values": [{}]},
              "mark": {"type": "rect", "fill": "white", "stroke": "black", "strokeWidth": 1.5},
              "encoding": {
                "x": {"datum": 2003.05, "type": "quantitative"}, "x2": {"datum": 2004.74},
                "y": {"datum": 315, "type": "quantitative"}, "y2": {"datum": 278}
              }
            },
            {
              "data": {"values": [{}]},
              "mark": {"type": "text", "text": "地震日回数と積算", "fontSize": 16, "baseline": "middle", "align": "center"},
              "encoding": {
                "x": {"datum": 2003.90, "type": "quantitative"},
                "y": {"datum": 296.6, "type": "quantitative"}
              }
            }
          ]
        },
        {
          "data": {"name": "cumulative"},
          "mark": {"type": "line", "color": "black", "strokeWidth": 2},
          "encoding": {
            "x": {"field": "t", "type": "quantitative", "title": null},
            "y": {"field": "c", "type": "quantitative", "scale": {"domain": [0, 30000], "nice": false},
                  "axis": {"orient": "right", "values": [0,5000,10000,15000,20000,25000,30000], "tickCount": 1000, "format": "d", "grid": false, "title": "[回]",
                           "titleAngle": 0, "titleAlign": "center", "titleBaseline": "middle", "titleX": 81, "titleY": -12}}
          }
        }
      ]
    },
    {"width": 1123, "height": 46, "data": {"values": []}, "mark": "point"},
    {
      "width": 1123, "height": 152,
      "view": {"stroke": "black", "strokeWidth": 2},
      "layer": [
        {
          "data": {"name": "arrival"},
          "mark": {"type": "square", "filled": true, "color": "#cc0000", "size": 8, "opacity": 1},
          "encoding": {
            "x": {"field": "t", "type": "quantitative", "scale": {"domain": [2003, 2016.093], "nice": false, "zero": false},
                  "axis": {"title": null, "grid": false, "tickCount": 1000, "values": [2003,2004,2005,2006,2007,2008,2009,2010,2011,2012,2013,2014,2015,2016],
                           "labelExpr": "'' + datum.value", "labelPadding": 9}},
            "y": {"field": "d", "type": "quantitative", "scale": {"domain": [0, 1], "nice": false},
                  "axis": {"values": [0,0.2,0.4,0.6,0.8,1], "tickCount": 1000, "format": "~g", "grid": true, "title": "[s]",
                           "titleAngle": 0, "titleAlign": "center", "titleBaseline": "middle", "titleX": -59, "titleY": 2}}
          }
        },
        {
          "data": {"values": [{}]},
          "mark": {"type": "rule", "color": "black", "strokeWidth": 2.5, "strokeDash": [10, 6]},
          "encoding": {"y": {"datum": 0.4, "type": "quantitative"}}
        },
        {
          "data": {"values": [{}]},
          "mark": {"type": "rect", "fill": "white", "stroke": "black", "strokeWidth": 1.5},
          "encoding": {
            "x": {"datum": 2003.035, "type": "quantitative"}, "x2": {"datum": 2006.31},
            "y": {"datum": 1.059, "type": "quantitative"}, "y2": {"datum": 0.901}
          }
        },
        {
          "data": {"values": [{}]},
          "mark": {"type": "text", "text": "初動の着差(オンネトー南東～西山)", "fontSize": 16, "baseline": "middle", "align": "center"},
          "encoding": {
            "x": {"datum": 2004.68, "type": "quantitative"},
            "y": {"datum": 0.98, "type": "quantitative"}
          }
        },
        {
          "data": {"values": [{}]},
          "mark": {"type": "text", "text": "浅い", "fontSize": 25, "baseline": "middle", "align": "center"},
          "encoding": {
            "x": {"datum": 2001.869, "type": "quantitative"},
            "y": {"datum": 0.704, "type": "quantitative"}
          }
        },
        {
          "data": {"values": [{}]},
          "mark": {"type": "text", "text": "深い", "fontSize": 25, "baseline": "middle", "align": "center"},
          "encoding": {
            "x": {"datum": 2001.869, "type": "quantitative"},
            "y": {"datum": 0.243, "type": "quantitative"}
          }
        },
        {
          "data": {"values": [{}]},
          "mark": {"type": "rule", "color": "black", "strokeWidth": 2.5},
          "encoding": {
            "x": {"datum": 2002.324, "type": "quantitative"},
            "y": {"datum": 0.47, "type": "quantitative"}, "y2": {"datum": 0.71}
          }
        },
        {
          "data": {"values": [{}]},
          "mark": {"type": "rule", "color": "black", "strokeWidth": 2.5},
          "encoding": {
            "x": {"datum": 2002.324, "type": "quantitative"},
            "y": {"datum": 0.40, "type": "quantitative"}, "y2": {"datum": 0.17}
          }
        },
        {
          "data": {"values": [{}]},
          "mark": {"type": "point", "shape": "triangle-up", "filled": true, "color": "black", "size": 196, "opacity": 1},
          "encoding": {
            "x": {"datum": 2002.324, "type": "quantitative"},
            "y": {"datum": 0.714, "type": "quantitative"}
          }
        },
        {
          "data": {"values": [{}]},
          "mark": {"type": "point", "shape": "triangle-down", "filled": true, "color": "black", "size": 196, "opacity": 1},
          "encoding": {
            "x": {"datum": 2002.324, "type": "quantitative"},
            "y": {"datum": 0.161, "type": "quantitative"}
          }
        }
      ]
    }
  ]
}
